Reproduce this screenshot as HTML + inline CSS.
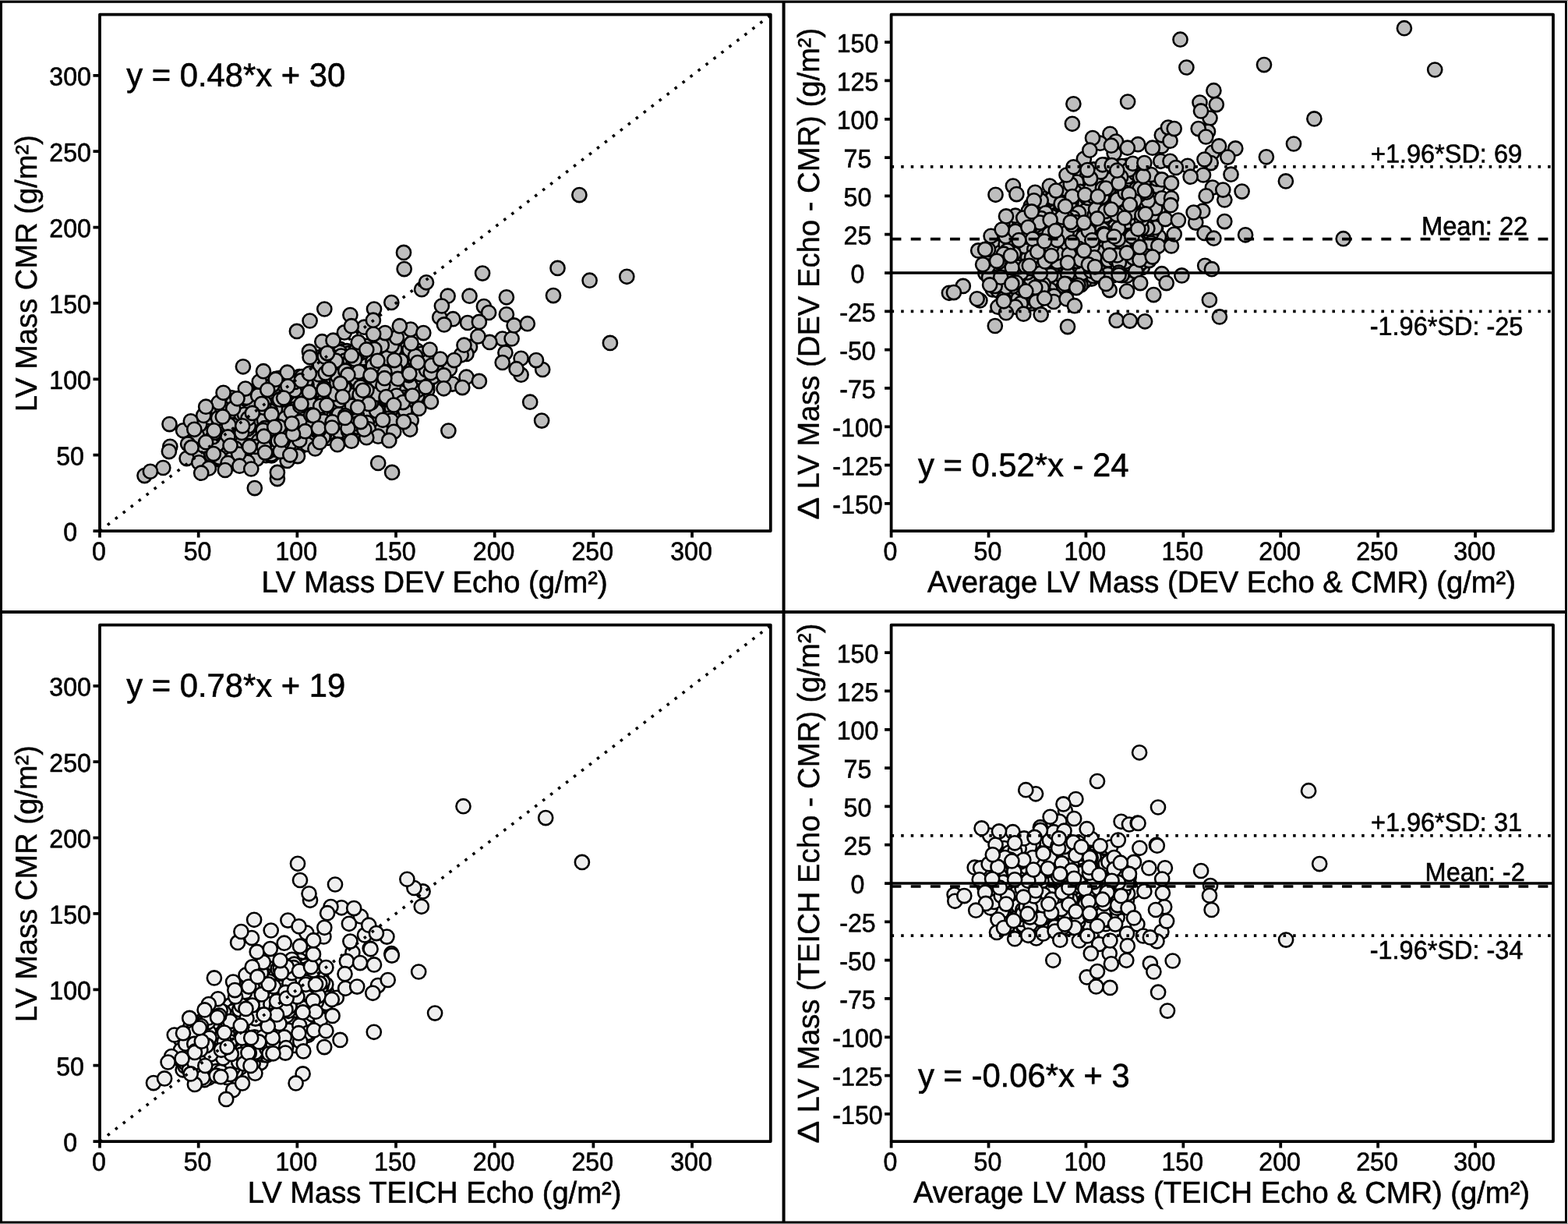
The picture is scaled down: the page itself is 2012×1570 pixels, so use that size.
<!DOCTYPE html>
<html lang="en"><head><meta charset="utf-8"><title>LV Mass: Echo vs CMR</title>
<style>html,body{margin:0;padding:0;background:#fff}svg{display:block}text{font-family:'Liberation Sans', sans-serif;fill:#000;stroke:#000}</style>
</head><body>
<svg xmlns="http://www.w3.org/2000/svg" width="2012" height="1570" viewBox="0 0 2012 1570">
<rect width="2012" height="1570" fill="#fff"/>
<g id="TL">
<g fill="#bebebe" stroke="#000" stroke-width="2.6">
<circle cx="460.6" cy="551.4" r="9.05"/>
<circle cx="421.1" cy="561.8" r="9.05"/>
<circle cx="408.3" cy="473.8" r="9.05"/>
<circle cx="279" cy="588.9" r="9.05"/>
<circle cx="432.9" cy="552.4" r="9.05"/>
<circle cx="271.9" cy="587.7" r="9.05"/>
<circle cx="250" cy="562.8" r="9.05"/>
<circle cx="476.4" cy="444.5" r="9.05"/>
<circle cx="436.5" cy="447.9" r="9.05"/>
<circle cx="346.9" cy="488.6" r="9.05"/>
<circle cx="501.1" cy="444.7" r="9.05"/>
<circle cx="445.1" cy="450.2" r="9.05"/>
<circle cx="551.6" cy="455.7" r="9.05"/>
<circle cx="490.5" cy="443.2" r="9.05"/>
<circle cx="402.6" cy="479.7" r="9.05"/>
<circle cx="354.3" cy="485.9" r="9.05"/>
<circle cx="374.5" cy="485.9" r="9.05"/>
<circle cx="428.6" cy="551.8" r="9.05"/>
<circle cx="405.1" cy="476.9" r="9.05"/>
<circle cx="271.5" cy="533.9" r="9.05"/>
<circle cx="548.2" cy="496.1" r="9.05"/>
<circle cx="341.4" cy="584.1" r="9.05"/>
<circle cx="453.8" cy="557.2" r="9.05"/>
<circle cx="297.3" cy="510.3" r="9.05"/>
<circle cx="272.7" cy="537.4" r="9.05"/>
<circle cx="386.5" cy="572.1" r="9.05"/>
<circle cx="447" cy="453.4" r="9.05"/>
<circle cx="384.2" cy="483.1" r="9.05"/>
<circle cx="420.8" cy="485" r="9.05"/>
<circle cx="348.4" cy="584.5" r="9.05"/>
<circle cx="469" cy="443.8" r="9.05"/>
<circle cx="291.7" cy="516.3" r="9.05"/>
<circle cx="332.3" cy="550.2" r="9.05"/>
<circle cx="288.5" cy="595.6" r="9.05"/>
<circle cx="424.7" cy="449.7" r="9.05"/>
<circle cx="433.9" cy="454.1" r="9.05"/>
<circle cx="249.3" cy="557.2" r="9.05"/>
<circle cx="548.3" cy="500.5" r="9.05"/>
<circle cx="491.7" cy="463.5" r="9.05"/>
<circle cx="358.6" cy="485.1" r="9.05"/>
<circle cx="535.5" cy="513.5" r="9.05"/>
<circle cx="363.7" cy="507.6" r="9.05"/>
<circle cx="286.5" cy="589.9" r="9.05"/>
<circle cx="406.4" cy="505.8" r="9.05"/>
<circle cx="471.7" cy="490.1" r="9.05"/>
<circle cx="426.1" cy="551.4" r="9.05"/>
<circle cx="457.9" cy="464.7" r="9.05"/>
<circle cx="368.8" cy="496.7" r="9.05"/>
<circle cx="410.6" cy="458.2" r="9.05"/>
<circle cx="474.6" cy="499.7" r="9.05"/>
<circle cx="557" cy="463.6" r="9.05"/>
<circle cx="327.7" cy="563.2" r="9.05"/>
<circle cx="387.8" cy="483.1" r="9.05"/>
<circle cx="436.8" cy="530.1" r="9.05"/>
<circle cx="433.1" cy="530.8" r="9.05"/>
<circle cx="545.9" cy="457.6" r="9.05"/>
<circle cx="384.8" cy="490.5" r="9.05"/>
<circle cx="527.2" cy="466.2" r="9.05"/>
<circle cx="541.5" cy="510.3" r="9.05"/>
<circle cx="532.5" cy="463.9" r="9.05"/>
<circle cx="457.6" cy="552.1" r="9.05"/>
<circle cx="442" cy="557.2" r="9.05"/>
<circle cx="348.6" cy="495.5" r="9.05"/>
<circle cx="517" cy="454.1" r="9.05"/>
<circle cx="531.5" cy="486.5" r="9.05"/>
<circle cx="529.8" cy="474.5" r="9.05"/>
<circle cx="458.7" cy="445.7" r="9.05"/>
<circle cx="430.9" cy="523.5" r="9.05"/>
<circle cx="495.6" cy="524.5" r="9.05"/>
<circle cx="485.9" cy="514.7" r="9.05"/>
<circle cx="342.6" cy="539.5" r="9.05"/>
<circle cx="534.5" cy="510.6" r="9.05"/>
<circle cx="521.8" cy="447" r="9.05"/>
<circle cx="297.4" cy="516.3" r="9.05"/>
<circle cx="301.2" cy="594.4" r="9.05"/>
<circle cx="268.2" cy="544.9" r="9.05"/>
<circle cx="353.8" cy="546.9" r="9.05"/>
<circle cx="370.6" cy="513" r="9.05"/>
<circle cx="527.4" cy="448.1" r="9.05"/>
<circle cx="516.6" cy="536.8" r="9.05"/>
<circle cx="478.9" cy="542.9" r="9.05"/>
<circle cx="353.3" cy="580.1" r="9.05"/>
<circle cx="456.8" cy="449.7" r="9.05"/>
<circle cx="298.7" cy="517.1" r="9.05"/>
<circle cx="480.9" cy="477.6" r="9.05"/>
<circle cx="481.7" cy="523.2" r="9.05"/>
<circle cx="409.4" cy="476.3" r="9.05"/>
<circle cx="458.3" cy="503.4" r="9.05"/>
<circle cx="479.8" cy="498.9" r="9.05"/>
<circle cx="306.8" cy="536.8" r="9.05"/>
<circle cx="474" cy="484.1" r="9.05"/>
<circle cx="436.1" cy="451.8" r="9.05"/>
<circle cx="480" cy="531.9" r="9.05"/>
<circle cx="414.4" cy="502.2" r="9.05"/>
<circle cx="429.8" cy="458.8" r="9.05"/>
<circle cx="487.4" cy="504.6" r="9.05"/>
<circle cx="381.6" cy="534.6" r="9.05"/>
<circle cx="279.4" cy="528.4" r="9.05"/>
<circle cx="515.3" cy="467.4" r="9.05"/>
<circle cx="359.6" cy="517.5" r="9.05"/>
<circle cx="500.7" cy="532" r="9.05"/>
<circle cx="491" cy="499.6" r="9.05"/>
<circle cx="522.8" cy="479.5" r="9.05"/>
<circle cx="493" cy="541.5" r="9.05"/>
<circle cx="554.1" cy="484.3" r="9.05"/>
<circle cx="380.6" cy="515.8" r="9.05"/>
<circle cx="318.3" cy="578.6" r="9.05"/>
<circle cx="525.4" cy="448.5" r="9.05"/>
<circle cx="363.5" cy="557.8" r="9.05"/>
<circle cx="563.1" cy="476" r="9.05"/>
<circle cx="329.5" cy="588.6" r="9.05"/>
<circle cx="496.9" cy="499.9" r="9.05"/>
<circle cx="272.5" cy="544.5" r="9.05"/>
<circle cx="472.3" cy="528.5" r="9.05"/>
<circle cx="421.9" cy="555" r="9.05"/>
<circle cx="469.1" cy="463" r="9.05"/>
<circle cx="348.2" cy="582.6" r="9.05"/>
<circle cx="428.2" cy="495.1" r="9.05"/>
<circle cx="369.5" cy="524.1" r="9.05"/>
<circle cx="420.8" cy="495.8" r="9.05"/>
<circle cx="535.4" cy="507.9" r="9.05"/>
<circle cx="467.2" cy="515.9" r="9.05"/>
<circle cx="470.9" cy="448.3" r="9.05"/>
<circle cx="378.4" cy="574" r="9.05"/>
<circle cx="493.7" cy="538.7" r="9.05"/>
<circle cx="444.7" cy="555" r="9.05"/>
<circle cx="379.9" cy="573.2" r="9.05"/>
<circle cx="359" cy="532.5" r="9.05"/>
<circle cx="368.1" cy="527.7" r="9.05"/>
<circle cx="330.2" cy="544.6" r="9.05"/>
<circle cx="394.5" cy="484.5" r="9.05"/>
<circle cx="427.1" cy="530.7" r="9.05"/>
<circle cx="280.7" cy="567.5" r="9.05"/>
<circle cx="513.5" cy="528.5" r="9.05"/>
<circle cx="347.6" cy="511.3" r="9.05"/>
<circle cx="401.1" cy="515.9" r="9.05"/>
<circle cx="496.8" cy="482.6" r="9.05"/>
<circle cx="471" cy="542.2" r="9.05"/>
<circle cx="381.6" cy="517.7" r="9.05"/>
<circle cx="525.8" cy="485.2" r="9.05"/>
<circle cx="373.9" cy="571.7" r="9.05"/>
<circle cx="279.6" cy="526" r="9.05"/>
<circle cx="436.9" cy="469.3" r="9.05"/>
<circle cx="450.6" cy="520.7" r="9.05"/>
<circle cx="409" cy="499.9" r="9.05"/>
<circle cx="419.6" cy="451.8" r="9.05"/>
<circle cx="320.1" cy="563.1" r="9.05"/>
<circle cx="336.1" cy="494.9" r="9.05"/>
<circle cx="294.7" cy="578.2" r="9.05"/>
<circle cx="478.4" cy="515.4" r="9.05"/>
<circle cx="346.1" cy="505.6" r="9.05"/>
<circle cx="278.8" cy="576.4" r="9.05"/>
<circle cx="300.9" cy="523.9" r="9.05"/>
<circle cx="384.9" cy="502.6" r="9.05"/>
<circle cx="372" cy="545.1" r="9.05"/>
<circle cx="534.9" cy="449.6" r="9.05"/>
<circle cx="431" cy="465.9" r="9.05"/>
<circle cx="363.2" cy="512.7" r="9.05"/>
<circle cx="378.5" cy="524.6" r="9.05"/>
<circle cx="267.3" cy="553.1" r="9.05"/>
<circle cx="391.6" cy="520.9" r="9.05"/>
<circle cx="519" cy="496.2" r="9.05"/>
<circle cx="353" cy="501" r="9.05"/>
<circle cx="519.5" cy="486.3" r="9.05"/>
<circle cx="396.4" cy="510.8" r="9.05"/>
<circle cx="503.3" cy="489.5" r="9.05"/>
<circle cx="418.8" cy="526.6" r="9.05"/>
<circle cx="492.4" cy="448.6" r="9.05"/>
<circle cx="518.3" cy="474.1" r="9.05"/>
<circle cx="483.5" cy="488.6" r="9.05"/>
<circle cx="514.5" cy="462.7" r="9.05"/>
<circle cx="399.9" cy="519.1" r="9.05"/>
<circle cx="411.3" cy="471.2" r="9.05"/>
<circle cx="506.5" cy="447.7" r="9.05"/>
<circle cx="362.4" cy="538.9" r="9.05"/>
<circle cx="319.9" cy="557.4" r="9.05"/>
<circle cx="502.8" cy="524.1" r="9.05"/>
<circle cx="415.4" cy="514.5" r="9.05"/>
<circle cx="421.4" cy="504.6" r="9.05"/>
<circle cx="378.1" cy="500.2" r="9.05"/>
<circle cx="352" cy="576.3" r="9.05"/>
<circle cx="468.5" cy="501.5" r="9.05"/>
<circle cx="437.7" cy="456.5" r="9.05"/>
<circle cx="353.1" cy="524.7" r="9.05"/>
<circle cx="454.3" cy="549.5" r="9.05"/>
<circle cx="317.9" cy="550" r="9.05"/>
<circle cx="472.3" cy="457.9" r="9.05"/>
<circle cx="372.7" cy="567.8" r="9.05"/>
<circle cx="323.6" cy="519.9" r="9.05"/>
<circle cx="331.1" cy="497.6" r="9.05"/>
<circle cx="342.3" cy="509.5" r="9.05"/>
<circle cx="518.6" cy="509.9" r="9.05"/>
<circle cx="344.2" cy="576.6" r="9.05"/>
<circle cx="416.3" cy="557.3" r="9.05"/>
<circle cx="366.1" cy="536.4" r="9.05"/>
<circle cx="477.3" cy="479.6" r="9.05"/>
<circle cx="498.6" cy="448.8" r="9.05"/>
<circle cx="319" cy="571.8" r="9.05"/>
<circle cx="389.4" cy="533.5" r="9.05"/>
<circle cx="559.3" cy="475.9" r="9.05"/>
<circle cx="278.6" cy="548.9" r="9.05"/>
<circle cx="435.1" cy="553.3" r="9.05"/>
<circle cx="293.9" cy="532.1" r="9.05"/>
<circle cx="414.7" cy="529.7" r="9.05"/>
<circle cx="548.4" cy="489" r="9.05"/>
<circle cx="484.7" cy="442.6" r="9.05"/>
<circle cx="423.4" cy="495.3" r="9.05"/>
<circle cx="399" cy="563.1" r="9.05"/>
<circle cx="339.3" cy="516.7" r="9.05"/>
<circle cx="286.1" cy="559.1" r="9.05"/>
<circle cx="497.1" cy="543.1" r="9.05"/>
<circle cx="406.6" cy="550.6" r="9.05"/>
<circle cx="449.8" cy="490.6" r="9.05"/>
<circle cx="442.4" cy="494.1" r="9.05"/>
<circle cx="356" cy="561.6" r="9.05"/>
<circle cx="460.7" cy="451.3" r="9.05"/>
<circle cx="365.4" cy="561.1" r="9.05"/>
<circle cx="449.9" cy="485.9" r="9.05"/>
<circle cx="442.4" cy="462.7" r="9.05"/>
<circle cx="332" cy="565.5" r="9.05"/>
<circle cx="483.1" cy="526.9" r="9.05"/>
<circle cx="286.9" cy="532.9" r="9.05"/>
<circle cx="526.1" cy="510" r="9.05"/>
<circle cx="390.9" cy="541.4" r="9.05"/>
<circle cx="287.7" cy="563.5" r="9.05"/>
<circle cx="526.8" cy="525.9" r="9.05"/>
<circle cx="424" cy="519.9" r="9.05"/>
<circle cx="414.4" cy="490.5" r="9.05"/>
<circle cx="489.1" cy="552.1" r="9.05"/>
<circle cx="269.5" cy="591.2" r="9.05"/>
<circle cx="476.1" cy="516.8" r="9.05"/>
<circle cx="499.3" cy="536.7" r="9.05"/>
<circle cx="470" cy="468.9" r="9.05"/>
<circle cx="358.9" cy="512.4" r="9.05"/>
<circle cx="320.7" cy="504.8" r="9.05"/>
<circle cx="373.8" cy="528.4" r="9.05"/>
<circle cx="277.4" cy="580.2" r="9.05"/>
<circle cx="309.4" cy="531.5" r="9.05"/>
<circle cx="469.6" cy="477.1" r="9.05"/>
<circle cx="540.9" cy="453.8" r="9.05"/>
<circle cx="297" cy="567.4" r="9.05"/>
<circle cx="411.3" cy="525.1" r="9.05"/>
<circle cx="505.3" cy="494.4" r="9.05"/>
<circle cx="520.9" cy="531.8" r="9.05"/>
<circle cx="449.7" cy="532.8" r="9.05"/>
<circle cx="434.1" cy="541.7" r="9.05"/>
<circle cx="348.1" cy="557.7" r="9.05"/>
<circle cx="521.6" cy="480.7" r="9.05"/>
<circle cx="385" cy="540.9" r="9.05"/>
<circle cx="425" cy="545.5" r="9.05"/>
<circle cx="395.6" cy="499.4" r="9.05"/>
<circle cx="443.3" cy="471.3" r="9.05"/>
<circle cx="308.6" cy="549.2" r="9.05"/>
<circle cx="412.6" cy="460.4" r="9.05"/>
<circle cx="326.4" cy="537.1" r="9.05"/>
<circle cx="412.6" cy="481.5" r="9.05"/>
<circle cx="495.5" cy="457" r="9.05"/>
<circle cx="287.4" cy="543.9" r="9.05"/>
<circle cx="412.3" cy="526.5" r="9.05"/>
<circle cx="395.7" cy="566.6" r="9.05"/>
<circle cx="378.4" cy="489.9" r="9.05"/>
<circle cx="463.9" cy="477.2" r="9.05"/>
<circle cx="417.9" cy="551.2" r="9.05"/>
<circle cx="358.1" cy="547.4" r="9.05"/>
<circle cx="313.1" cy="520.2" r="9.05"/>
<circle cx="399.1" cy="500.1" r="9.05"/>
<circle cx="364.1" cy="493.6" r="9.05"/>
<circle cx="327.6" cy="505.8" r="9.05"/>
<circle cx="252.3" cy="571.5" r="9.05"/>
<circle cx="497.3" cy="470.5" r="9.05"/>
<circle cx="264.2" cy="556" r="9.05"/>
<circle cx="424.5" cy="509.6" r="9.05"/>
<circle cx="338.4" cy="528.9" r="9.05"/>
<circle cx="299.1" cy="561.1" r="9.05"/>
<circle cx="519.8" cy="526.4" r="9.05"/>
<circle cx="309.3" cy="570.1" r="9.05"/>
<circle cx="320.4" cy="516.1" r="9.05"/>
<circle cx="370" cy="488.1" r="9.05"/>
<circle cx="496.7" cy="459.2" r="9.05"/>
<circle cx="506.5" cy="546" r="9.05"/>
<circle cx="442.5" cy="537" r="9.05"/>
<circle cx="318.8" cy="546.4" r="9.05"/>
<circle cx="457.1" cy="530.9" r="9.05"/>
<circle cx="432.5" cy="517.8" r="9.05"/>
<circle cx="535.5" cy="500.8" r="9.05"/>
<circle cx="338.9" cy="538.7" r="9.05"/>
<circle cx="313.9" cy="510.9" r="9.05"/>
<circle cx="394.1" cy="569.9" r="9.05"/>
<circle cx="273.6" cy="572.8" r="9.05"/>
<circle cx="526.7" cy="491.8" r="9.05"/>
<circle cx="401.5" cy="545" r="9.05"/>
<circle cx="339.8" cy="549.2" r="9.05"/>
<circle cx="480.3" cy="461.9" r="9.05"/>
<circle cx="449.3" cy="462.2" r="9.05"/>
<circle cx="328.5" cy="572.9" r="9.05"/>
<circle cx="384.3" cy="564.8" r="9.05"/>
<circle cx="343.4" cy="579.4" r="9.05"/>
<circle cx="302" cy="575.2" r="9.05"/>
<circle cx="300.3" cy="592.2" r="9.05"/>
<circle cx="313.8" cy="531.6" r="9.05"/>
<circle cx="466.9" cy="550.6" r="9.05"/>
<circle cx="478" cy="507.6" r="9.05"/>
<circle cx="549.5" cy="463.7" r="9.05"/>
<circle cx="358" cy="572.2" r="9.05"/>
<circle cx="524.7" cy="481.3" r="9.05"/>
<circle cx="432.8" cy="482.3" r="9.05"/>
<circle cx="484.6" cy="505.7" r="9.05"/>
<circle cx="279.9" cy="536.2" r="9.05"/>
<circle cx="439.3" cy="515.5" r="9.05"/>
<circle cx="425.1" cy="467.6" r="9.05"/>
<circle cx="337.6" cy="551.9" r="9.05"/>
<circle cx="362.1" cy="567.6" r="9.05"/>
<circle cx="266" cy="582.8" r="9.05"/>
<circle cx="318.4" cy="536.7" r="9.05"/>
<circle cx="458" cy="533.5" r="9.05"/>
<circle cx="316.3" cy="510" r="9.05"/>
<circle cx="457.6" cy="487.1" r="9.05"/>
<circle cx="403.3" cy="489.6" r="9.05"/>
<circle cx="434.8" cy="531.4" r="9.05"/>
<circle cx="507.4" cy="473.1" r="9.05"/>
<circle cx="453.4" cy="466.2" r="9.05"/>
<circle cx="430.9" cy="509.9" r="9.05"/>
<circle cx="286.3" cy="591.5" r="9.05"/>
<circle cx="478.4" cy="463.7" r="9.05"/>
<circle cx="408.9" cy="480.3" r="9.05"/>
<circle cx="542" cy="485.9" r="9.05"/>
<circle cx="447.1" cy="552.9" r="9.05"/>
<circle cx="539.1" cy="480.1" r="9.05"/>
<circle cx="462.7" cy="496.4" r="9.05"/>
<circle cx="298.3" cy="545.2" r="9.05"/>
<circle cx="409.9" cy="536.5" r="9.05"/>
<circle cx="349.4" cy="494.1" r="9.05"/>
<circle cx="435.7" cy="513.5" r="9.05"/>
<circle cx="293.5" cy="545" r="9.05"/>
<circle cx="292.4" cy="560.4" r="9.05"/>
<circle cx="293.7" cy="579.6" r="9.05"/>
<circle cx="378.9" cy="555.5" r="9.05"/>
<circle cx="317.6" cy="592.8" r="9.05"/>
<circle cx="491.4" cy="494.2" r="9.05"/>
<circle cx="419.1" cy="544.6" r="9.05"/>
<circle cx="278.6" cy="570" r="9.05"/>
<circle cx="502.7" cy="443.2" r="9.05"/>
<circle cx="385.3" cy="520.7" r="9.05"/>
<circle cx="415.2" cy="540.3" r="9.05"/>
<circle cx="410.7" cy="468.4" r="9.05"/>
<circle cx="281.5" cy="586.8" r="9.05"/>
<circle cx="271.3" cy="583.4" r="9.05"/>
<circle cx="430.9" cy="462.7" r="9.05"/>
<circle cx="347.2" cy="527.4" r="9.05"/>
<circle cx="533.1" cy="456.7" r="9.05"/>
<circle cx="297.4" cy="588.5" r="9.05"/>
<circle cx="393.5" cy="493.7" r="9.05"/>
<circle cx="442.7" cy="505.3" r="9.05"/>
<circle cx="253.5" cy="586" r="9.05"/>
<circle cx="415.9" cy="498" r="9.05"/>
<circle cx="555.4" cy="483.2" r="9.05"/>
<circle cx="452.5" cy="522.6" r="9.05"/>
<circle cx="331" cy="505.3" r="9.05"/>
<circle cx="451.4" cy="507.3" r="9.05"/>
<circle cx="284.8" cy="522.5" r="9.05"/>
<circle cx="260.7" cy="571.2" r="9.05"/>
<circle cx="508.9" cy="507.5" r="9.05"/>
<circle cx="414.7" cy="560.8" r="9.05"/>
<circle cx="411.2" cy="520.7" r="9.05"/>
<circle cx="460.7" cy="511.9" r="9.05"/>
<circle cx="421.9" cy="474.1" r="9.05"/>
<circle cx="459.5" cy="548" r="9.05"/>
<circle cx="429.8" cy="505.3" r="9.05"/>
<circle cx="495.7" cy="511.6" r="9.05"/>
<circle cx="391.6" cy="553.2" r="9.05"/>
<circle cx="451.8" cy="520.7" r="9.05"/>
<circle cx="409.1" cy="551.8" r="9.05"/>
<circle cx="338.4" cy="522.8" r="9.05"/>
<circle cx="348.9" cy="567.6" r="9.05"/>
<circle cx="455.2" cy="460.7" r="9.05"/>
<circle cx="489.8" cy="442.8" r="9.05"/>
<circle cx="306.2" cy="582.5" r="9.05"/>
<circle cx="310.2" cy="555" r="9.05"/>
<circle cx="493.5" cy="477.4" r="9.05"/>
<circle cx="480.4" cy="447.9" r="9.05"/>
<circle cx="461.6" cy="506.1" r="9.05"/>
<circle cx="440.9" cy="496.9" r="9.05"/>
<circle cx="470.4" cy="500.6" r="9.05"/>
<circle cx="426.5" cy="541.3" r="9.05"/>
<circle cx="416.6" cy="457.5" r="9.05"/>
<circle cx="356.7" cy="565.8" r="9.05"/>
<circle cx="547" cy="474.5" r="9.05"/>
<circle cx="478.6" cy="469.2" r="9.05"/>
<circle cx="472.9" cy="550.3" r="9.05"/>
<circle cx="501.9" cy="539.3" r="9.05"/>
<circle cx="443.2" cy="475.7" r="9.05"/>
<circle cx="559" cy="473.5" r="9.05"/>
<circle cx="392.3" cy="489.3" r="9.05"/>
<circle cx="331.1" cy="507.2" r="9.05"/>
<circle cx="273.3" cy="560.5" r="9.05"/>
<circle cx="275.3" cy="554.9" r="9.05"/>
<circle cx="256.3" cy="544.6" r="9.05"/>
<circle cx="460.3" cy="477.1" r="9.05"/>
<circle cx="517" cy="516.1" r="9.05"/>
<circle cx="417.7" cy="478.6" r="9.05"/>
<circle cx="552.7" cy="478.3" r="9.05"/>
<circle cx="399.2" cy="532.4" r="9.05"/>
<circle cx="458" cy="543.5" r="9.05"/>
<circle cx="443.1" cy="533.3" r="9.05"/>
<circle cx="396.9" cy="450.9" r="9.05"/>
<circle cx="332.8" cy="489.6" r="9.05"/>
<circle cx="368.6" cy="477.7" r="9.05"/>
<circle cx="386.5" cy="488.2" r="9.05"/>
<circle cx="280.6" cy="516.5" r="9.05"/>
<circle cx="335.8" cy="518" r="9.05"/>
<circle cx="235.1" cy="552.3" r="9.05"/>
<circle cx="253" cy="559" r="9.05"/>
<circle cx="241.1" cy="569.4" r="9.05"/>
<circle cx="218.3" cy="572.8" r="9.05"/>
<circle cx="338.7" cy="573.1" r="9.05"/>
<circle cx="340.2" cy="580.6" r="9.05"/>
<circle cx="368.6" cy="591" r="9.05"/>
<circle cx="355.9" cy="614.1" r="9.05"/>
<circle cx="185.5" cy="610.1" r="9.05"/>
<circle cx="239.6" cy="588.1" r="9.05"/>
<circle cx="292.5" cy="594" r="9.05"/>
<circle cx="359.6" cy="579.1" r="9.05"/>
<circle cx="382" cy="585.1" r="9.05"/>
<circle cx="404.4" cy="575.4" r="9.05"/>
<circle cx="410.3" cy="567.2" r="9.05"/>
<circle cx="361.1" cy="564.2" r="9.05"/>
<circle cx="376" cy="556.7" r="9.05"/>
<circle cx="261.2" cy="532.9" r="9.05"/>
<circle cx="244.8" cy="540.3" r="9.05"/>
<circle cx="249.3" cy="550.8" r="9.05"/>
<circle cx="299.2" cy="523.9" r="9.05"/>
<circle cx="413.3" cy="438.2" r="9.05"/>
<circle cx="427.5" cy="436.7" r="9.05"/>
<circle cx="397.6" cy="458.3" r="9.05"/>
<circle cx="420" cy="453.1" r="9.05"/>
<circle cx="311.9" cy="470.3" r="9.05"/>
<circle cx="338" cy="476.2" r="9.05"/>
<circle cx="353.7" cy="486.7" r="9.05"/>
<circle cx="396.9" cy="479.2" r="9.05"/>
<circle cx="422.2" cy="473.2" r="9.05"/>
<circle cx="286.6" cy="503.8" r="9.05"/>
<circle cx="314.9" cy="498.6" r="9.05"/>
<circle cx="304.5" cy="511.3" r="9.05"/>
<circle cx="343.2" cy="500.1" r="9.05"/>
<circle cx="369.3" cy="495.6" r="9.05"/>
<circle cx="364.1" cy="510.5" r="9.05"/>
<circle cx="396.9" cy="503.1" r="9.05"/>
<circle cx="415.5" cy="500.1" r="9.05"/>
<circle cx="386.5" cy="518" r="9.05"/>
<circle cx="419.3" cy="519.5" r="9.05"/>
<circle cx="264.2" cy="521.7" r="9.05"/>
<circle cx="285.8" cy="534.4" r="9.05"/>
<circle cx="323.8" cy="529.9" r="9.05"/>
<circle cx="311.2" cy="546.3" r="9.05"/>
<circle cx="348.4" cy="531.4" r="9.05"/>
<circle cx="352.2" cy="547.8" r="9.05"/>
<circle cx="374.5" cy="543.3" r="9.05"/>
<circle cx="402.1" cy="532.9" r="9.05"/>
<circle cx="217.5" cy="544.1" r="9.05"/>
<circle cx="408.8" cy="549.3" r="9.05"/>
<circle cx="426" cy="548.5" r="9.05"/>
<circle cx="274.6" cy="552.3" r="9.05"/>
<circle cx="264.2" cy="567.2" r="9.05"/>
<circle cx="245.6" cy="573.9" r="9.05"/>
<circle cx="295.5" cy="571.6" r="9.05"/>
<circle cx="320.1" cy="573.1" r="9.05"/>
<circle cx="338.7" cy="559.7" r="9.05"/>
<circle cx="216.9" cy="579.1" r="9.05"/>
<circle cx="273.9" cy="582.1" r="9.05"/>
<circle cx="255.2" cy="593.3" r="9.05"/>
<circle cx="267.9" cy="600.7" r="9.05"/>
<circle cx="258.2" cy="606.7" r="9.05"/>
<circle cx="288.8" cy="603" r="9.05"/>
<circle cx="307.4" cy="597.7" r="9.05"/>
<circle cx="322.3" cy="601.5" r="9.05"/>
<circle cx="372.3" cy="583.6" r="9.05"/>
<circle cx="355.9" cy="605.9" r="9.05"/>
<circle cx="209.3" cy="600" r="9.05"/>
<circle cx="192.9" cy="604.8" r="9.05"/>
<circle cx="326.8" cy="626.1" r="9.05"/>
<circle cx="644.7" cy="434.5" r="9.05"/>
<circle cx="648.4" cy="452.4" r="9.05"/>
<circle cx="696.2" cy="474" r="9.05"/>
<circle cx="668.6" cy="480.7" r="9.05"/>
<circle cx="603" cy="444.9" r="9.05"/>
<circle cx="598.5" cy="453.9" r="9.05"/>
<circle cx="591.8" cy="455.3" r="9.05"/>
<circle cx="580.6" cy="492.6" r="9.05"/>
<circle cx="576.9" cy="473.2" r="9.05"/>
<circle cx="553.8" cy="468.8" r="9.05"/>
<circle cx="459.8" cy="438.9" r="9.05"/>
<circle cx="509" cy="433" r="9.05"/>
<circle cx="510.5" cy="485.9" r="9.05"/>
<circle cx="529.2" cy="507.5" r="9.05"/>
<circle cx="495.6" cy="509" r="9.05"/>
<circle cx="473.2" cy="518" r="9.05"/>
<circle cx="527.7" cy="539.6" r="9.05"/>
<circle cx="526.2" cy="550.8" r="9.05"/>
<circle cx="505.3" cy="553.8" r="9.05"/>
<circle cx="485.2" cy="559.7" r="9.05"/>
<circle cx="470.3" cy="561.2" r="9.05"/>
<circle cx="467.3" cy="550.8" r="9.05"/>
<circle cx="433" cy="570.2" r="9.05"/>
<circle cx="491.1" cy="538.8" r="9.05"/>
<circle cx="446.4" cy="549.3" r="9.05"/>
<circle cx="485.2" cy="594" r="9.05"/>
<circle cx="503.1" cy="605.9" r="9.05"/>
<circle cx="575.4" cy="552.6" r="9.05"/>
<circle cx="680.2" cy="515.7" r="9.05"/>
<circle cx="695.1" cy="539.6" r="9.05"/>
<circle cx="656.6" cy="434.5" r="9.05"/>
<circle cx="628.3" cy="438.9" r="9.05"/>
<circle cx="613.4" cy="431.5" r="9.05"/>
<circle cx="644.7" cy="465" r="9.05"/>
<circle cx="668.6" cy="459.8" r="9.05"/>
<circle cx="688" cy="462.1" r="9.05"/>
<circle cx="662.6" cy="473.2" r="9.05"/>
<circle cx="595.5" cy="442.7" r="9.05"/>
<circle cx="582.8" cy="462.1" r="9.05"/>
<circle cx="598.5" cy="483.7" r="9.05"/>
<circle cx="614.9" cy="488.9" r="9.05"/>
<circle cx="593.3" cy="497.1" r="9.05"/>
<circle cx="569.4" cy="481.4" r="9.05"/>
<circle cx="569.4" cy="498.3" r="9.05"/>
<circle cx="564.9" cy="460.6" r="9.05"/>
<circle cx="551.5" cy="448.6" r="9.05"/>
<circle cx="527.7" cy="440.4" r="9.05"/>
<circle cx="535.9" cy="465" r="9.05"/>
<circle cx="506" cy="462.1" r="9.05"/>
<circle cx="484.4" cy="462.8" r="9.05"/>
<circle cx="470.3" cy="448.6" r="9.05"/>
<circle cx="450.9" cy="456.1" r="9.05"/>
<circle cx="525.4" cy="479.2" r="9.05"/>
<circle cx="493.4" cy="485.2" r="9.05"/>
<circle cx="475.5" cy="481.4" r="9.05"/>
<circle cx="446.4" cy="480.7" r="9.05"/>
<circle cx="436.7" cy="491.9" r="9.05"/>
<circle cx="465.8" cy="500.8" r="9.05"/>
<circle cx="546.3" cy="496.6" r="9.05"/>
<circle cx="553" cy="515.3" r="9.05"/>
<circle cx="537.4" cy="523.9" r="9.05"/>
<circle cx="505.3" cy="519.5" r="9.05"/>
<circle cx="459.1" cy="522.4" r="9.05"/>
<circle cx="439.7" cy="509" r="9.05"/>
<circle cx="442.7" cy="535.9" r="9.05"/>
<circle cx="462.8" cy="541.1" r="9.05"/>
<circle cx="518" cy="541.1" r="9.05"/>
<circle cx="499.3" cy="564.9" r="9.05"/>
<circle cx="450.9" cy="565.7" r="9.05"/>
<circle cx="541.1" cy="371.2" r="9.05"/>
<circle cx="480" cy="396.5" r="9.05"/>
<circle cx="620.9" cy="393.1" r="9.05"/>
<circle cx="564.2" cy="407" r="9.05"/>
<circle cx="574.6" cy="379.7" r="9.05"/>
<circle cx="467.3" cy="419.7" r="9.05"/>
<circle cx="441.9" cy="426.4" r="9.05"/>
<circle cx="526.9" cy="422.6" r="9.05"/>
<circle cx="543.3" cy="427.1" r="9.05"/>
<circle cx="494.1" cy="427.1" r="9.05"/>
<circle cx="479.2" cy="428.6" r="9.05"/>
<circle cx="518" cy="323.9" r="9.05"/>
<circle cx="518.7" cy="345.1" r="9.05"/>
<circle cx="547" cy="362.3" r="9.05"/>
<circle cx="502.3" cy="388" r="9.05"/>
<circle cx="619.1" cy="350.6" r="9.05"/>
<circle cx="715.5" cy="343.9" r="9.05"/>
<circle cx="710" cy="379.1" r="9.05"/>
<circle cx="602.5" cy="379.7" r="9.05"/>
<circle cx="649.9" cy="381.3" r="9.05"/>
<circle cx="566.9" cy="392.5" r="9.05"/>
<circle cx="627.1" cy="401" r="9.05"/>
<circle cx="649.9" cy="403.3" r="9.05"/>
<circle cx="581.3" cy="409.2" r="9.05"/>
<circle cx="569.9" cy="416.4" r="9.05"/>
<circle cx="600" cy="414" r="9.05"/>
<circle cx="614.9" cy="412.9" r="9.05"/>
<circle cx="659.6" cy="417.4" r="9.05"/>
<circle cx="676.8" cy="415.2" r="9.05"/>
<circle cx="449.4" cy="404" r="9.05"/>
<circle cx="478.9" cy="410.7" r="9.05"/>
<circle cx="450.9" cy="418.2" r="9.05"/>
<circle cx="512.8" cy="418.2" r="9.05"/>
<circle cx="416.3" cy="396.5" r="9.05"/>
<circle cx="397.6" cy="411.5" r="9.05"/>
<circle cx="380.9" cy="424.9" r="9.05"/>
<circle cx="743.4" cy="250.1" r="9.05"/>
<circle cx="756.6" cy="359.7" r="9.05"/>
<circle cx="804.3" cy="354.8" r="9.05"/>
<circle cx="782.9" cy="439.9" r="9.05"/>
</g>
<line x1="128" y1="681" x2="989.39" y2="18.92" stroke="#000" stroke-width="3.6" stroke-dasharray="3.5 9.075"/>
<g fill="#bebebe" stroke="#000" stroke-width="2.6">
</g>
<rect x="128" y="18.5" width="860.8" height="662.5" fill="none" stroke="#000" stroke-width="3.75" stroke-linejoin="round"/>
<path d="M128 681V689.6M254.68 681V689.6M381.35 681V689.6M508.03 681V689.6M634.7 681V689.6M761.38 681V689.6M888.05 681V689.6M128 681H119.5M128 583.63H119.5M128 486.27H119.5M128 388.9H119.5M128 291.54H119.5M128 194.18H119.5M128 96.81H119.5" stroke="#000" stroke-width="3.75" fill="none"/>
<text transform="translate(126.9 718.5) rotate(0.03) scale(0.965 1)" font-size="33.3" stroke-width="0.6" text-anchor="middle">0</text>
<text transform="translate(253.58 718.5) rotate(0.03) scale(0.965 1)" font-size="33.3" stroke-width="0.6" text-anchor="middle">50</text>
<text transform="translate(380.25 718.5) rotate(0.03) scale(0.965 1)" font-size="33.3" stroke-width="0.6" text-anchor="middle">100</text>
<text transform="translate(506.93 718.5) rotate(0.03) scale(0.965 1)" font-size="33.3" stroke-width="0.6" text-anchor="middle">150</text>
<text transform="translate(633.6 718.5) rotate(0.03) scale(0.965 1)" font-size="33.3" stroke-width="0.6" text-anchor="middle">200</text>
<text transform="translate(760.27 718.5) rotate(0.03) scale(0.965 1)" font-size="33.3" stroke-width="0.6" text-anchor="middle">250</text>
<text transform="translate(886.95 718.5) rotate(0.03) scale(0.965 1)" font-size="33.3" stroke-width="0.6" text-anchor="middle">300</text>
<text transform="translate(90.1 693.8) rotate(0.03) scale(0.965 1)" font-size="33.3" stroke-width="0.6" text-anchor="middle">0</text>
<text transform="translate(90.1 596.43) rotate(0.03) scale(0.965 1)" font-size="33.3" stroke-width="0.6" text-anchor="middle">50</text>
<text transform="translate(90.1 499.07) rotate(0.03) scale(0.965 1)" font-size="33.3" stroke-width="0.6" text-anchor="middle">100</text>
<text transform="translate(90.1 401.7) rotate(0.03) scale(0.965 1)" font-size="33.3" stroke-width="0.6" text-anchor="middle">150</text>
<text transform="translate(90.1 304.34) rotate(0.03) scale(0.965 1)" font-size="33.3" stroke-width="0.6" text-anchor="middle">200</text>
<text transform="translate(90.1 206.98) rotate(0.03) scale(0.965 1)" font-size="33.3" stroke-width="0.6" text-anchor="middle">250</text>
<text transform="translate(90.1 109.61) rotate(0.03) scale(0.965 1)" font-size="33.3" stroke-width="0.6" text-anchor="middle">300</text>
<text transform="translate(557.6 759.8) rotate(0.03) scale(0.978 1)" font-size="39.0" stroke-width="0.6" text-anchor="middle">LV Mass DEV Echo (g/m²)</text>
<text transform="translate(47 350.75) rotate(-89.97) scale(0.978 1)" font-size="39.0" stroke-width="0.45" text-anchor="middle">LV Mass CMR (g/m²)</text>
<text transform="translate(162.2 110.6) rotate(0.03) scale(0.983 1)" font-size="42.5" stroke-width="0.6">y = 0.48*x + 30</text>
</g>
<g id="TR">
<g fill="#bebebe" stroke="#000" stroke-width="2.6">
<circle cx="1483.1" cy="293.2" r="9.05"/>
<circle cx="1383.8" cy="229" r="9.05"/>
<circle cx="1484.4" cy="236.8" r="9.05"/>
<circle cx="1456.3" cy="350.8" r="9.05"/>
<circle cx="1400.7" cy="357.6" r="9.05"/>
<circle cx="1268.9" cy="327.7" r="9.05"/>
<circle cx="1465.9" cy="343" r="9.05"/>
<circle cx="1390.9" cy="361.3" r="9.05"/>
<circle cx="1465.1" cy="215.6" r="9.05"/>
<circle cx="1446" cy="353.7" r="9.05"/>
<circle cx="1320.6" cy="386.5" r="9.05"/>
<circle cx="1433.2" cy="214.4" r="9.05"/>
<circle cx="1323" cy="388.4" r="9.05"/>
<circle cx="1379.6" cy="357.8" r="9.05"/>
<circle cx="1271.8" cy="315.5" r="9.05"/>
<circle cx="1460.7" cy="341.1" r="9.05"/>
<circle cx="1311.9" cy="324.5" r="9.05"/>
<circle cx="1484.7" cy="316.4" r="9.05"/>
<circle cx="1360.2" cy="342.4" r="9.05"/>
<circle cx="1266" cy="322.9" r="9.05"/>
<circle cx="1477.9" cy="321.1" r="9.05"/>
<circle cx="1475.9" cy="278.7" r="9.05"/>
<circle cx="1373.1" cy="368.1" r="9.05"/>
<circle cx="1446.1" cy="346.1" r="9.05"/>
<circle cx="1324.2" cy="389.2" r="9.05"/>
<circle cx="1343.2" cy="382" r="9.05"/>
<circle cx="1359.1" cy="376.6" r="9.05"/>
<circle cx="1347.6" cy="263.1" r="9.05"/>
<circle cx="1370.8" cy="339.3" r="9.05"/>
<circle cx="1471.4" cy="295.7" r="9.05"/>
<circle cx="1264.3" cy="350.6" r="9.05"/>
<circle cx="1353.2" cy="271.9" r="9.05"/>
<circle cx="1357.3" cy="274" r="9.05"/>
<circle cx="1320.5" cy="386.4" r="9.05"/>
<circle cx="1349.2" cy="345.1" r="9.05"/>
<circle cx="1358.2" cy="257.5" r="9.05"/>
<circle cx="1303.9" cy="319.2" r="9.05"/>
<circle cx="1356.3" cy="369.3" r="9.05"/>
<circle cx="1276.7" cy="312.6" r="9.05"/>
<circle cx="1343.3" cy="254.3" r="9.05"/>
<circle cx="1359.2" cy="334.7" r="9.05"/>
<circle cx="1350" cy="347.5" r="9.05"/>
<circle cx="1363.1" cy="263.8" r="9.05"/>
<circle cx="1483.4" cy="252" r="9.05"/>
<circle cx="1325.2" cy="361.8" r="9.05"/>
<circle cx="1485.2" cy="284.8" r="9.05"/>
<circle cx="1352.1" cy="356.4" r="9.05"/>
<circle cx="1470.9" cy="308.5" r="9.05"/>
<circle cx="1374.3" cy="348.9" r="9.05"/>
<circle cx="1322.6" cy="264.4" r="9.05"/>
<circle cx="1487" cy="303.8" r="9.05"/>
<circle cx="1427.3" cy="253.8" r="9.05"/>
<circle cx="1438.1" cy="249.9" r="9.05"/>
<circle cx="1311.8" cy="333" r="9.05"/>
<circle cx="1366.8" cy="369.7" r="9.05"/>
<circle cx="1402.6" cy="354" r="9.05"/>
<circle cx="1405.7" cy="261.4" r="9.05"/>
<circle cx="1353.3" cy="277.9" r="9.05"/>
<circle cx="1427.3" cy="353.7" r="9.05"/>
<circle cx="1449.5" cy="229.6" r="9.05"/>
<circle cx="1273.8" cy="371.4" r="9.05"/>
<circle cx="1281.1" cy="312.7" r="9.05"/>
<circle cx="1351.9" cy="340.4" r="9.05"/>
<circle cx="1479" cy="296.1" r="9.05"/>
<circle cx="1455.5" cy="298.3" r="9.05"/>
<circle cx="1426.5" cy="213.3" r="9.05"/>
<circle cx="1351" cy="374.1" r="9.05"/>
<circle cx="1351.4" cy="250.5" r="9.05"/>
<circle cx="1358.2" cy="365.7" r="9.05"/>
<circle cx="1350.4" cy="358.3" r="9.05"/>
<circle cx="1319" cy="330.6" r="9.05"/>
<circle cx="1441.8" cy="290.9" r="9.05"/>
<circle cx="1427" cy="240" r="9.05"/>
<circle cx="1427.8" cy="261.7" r="9.05"/>
<circle cx="1368.9" cy="325.3" r="9.05"/>
<circle cx="1294.7" cy="335.2" r="9.05"/>
<circle cx="1427.8" cy="279.8" r="9.05"/>
<circle cx="1445.8" cy="212.7" r="9.05"/>
<circle cx="1296.9" cy="389.6" r="9.05"/>
<circle cx="1447.8" cy="243.2" r="9.05"/>
<circle cx="1305.3" cy="377.9" r="9.05"/>
<circle cx="1417" cy="345.5" r="9.05"/>
<circle cx="1312.1" cy="362.4" r="9.05"/>
<circle cx="1487.4" cy="262.6" r="9.05"/>
<circle cx="1457.1" cy="241" r="9.05"/>
<circle cx="1313.8" cy="382.6" r="9.05"/>
<circle cx="1293.8" cy="350.2" r="9.05"/>
<circle cx="1291.8" cy="380.8" r="9.05"/>
<circle cx="1486.6" cy="268.7" r="9.05"/>
<circle cx="1479.7" cy="260.2" r="9.05"/>
<circle cx="1428.3" cy="341" r="9.05"/>
<circle cx="1477.4" cy="241.1" r="9.05"/>
<circle cx="1461.3" cy="262.7" r="9.05"/>
<circle cx="1467.8" cy="310.5" r="9.05"/>
<circle cx="1476.7" cy="300.4" r="9.05"/>
<circle cx="1267.8" cy="335.4" r="9.05"/>
<circle cx="1329.5" cy="348.4" r="9.05"/>
<circle cx="1299" cy="367.3" r="9.05"/>
<circle cx="1477.6" cy="326.4" r="9.05"/>
<circle cx="1448.3" cy="282.6" r="9.05"/>
<circle cx="1443" cy="295" r="9.05"/>
<circle cx="1380.9" cy="345.6" r="9.05"/>
<circle cx="1300" cy="298.6" r="9.05"/>
<circle cx="1411.5" cy="329.6" r="9.05"/>
<circle cx="1407" cy="229.2" r="9.05"/>
<circle cx="1330" cy="366.5" r="9.05"/>
<circle cx="1389.5" cy="328.1" r="9.05"/>
<circle cx="1319.1" cy="356.4" r="9.05"/>
<circle cx="1387.2" cy="336.2" r="9.05"/>
<circle cx="1414" cy="306.2" r="9.05"/>
<circle cx="1386.2" cy="222.4" r="9.05"/>
<circle cx="1347.6" cy="371.7" r="9.05"/>
<circle cx="1469.3" cy="222.5" r="9.05"/>
<circle cx="1444.3" cy="241.8" r="9.05"/>
<circle cx="1306.7" cy="372" r="9.05"/>
<circle cx="1482.3" cy="291.9" r="9.05"/>
<circle cx="1318.1" cy="349.6" r="9.05"/>
<circle cx="1418.7" cy="293.1" r="9.05"/>
<circle cx="1474.8" cy="251" r="9.05"/>
<circle cx="1295.4" cy="290.2" r="9.05"/>
<circle cx="1453" cy="300.4" r="9.05"/>
<circle cx="1306.1" cy="357.8" r="9.05"/>
<circle cx="1470.2" cy="319.3" r="9.05"/>
<circle cx="1371" cy="236.7" r="9.05"/>
<circle cx="1446.7" cy="284.4" r="9.05"/>
<circle cx="1471.5" cy="262.8" r="9.05"/>
<circle cx="1415.1" cy="260" r="9.05"/>
<circle cx="1293.5" cy="314.4" r="9.05"/>
<circle cx="1407.2" cy="306.3" r="9.05"/>
<circle cx="1283.2" cy="303.1" r="9.05"/>
<circle cx="1360" cy="291.4" r="9.05"/>
<circle cx="1479.7" cy="274.3" r="9.05"/>
<circle cx="1365" cy="366.7" r="9.05"/>
<circle cx="1336.6" cy="287.5" r="9.05"/>
<circle cx="1314.7" cy="316.1" r="9.05"/>
<circle cx="1413.1" cy="288.7" r="9.05"/>
<circle cx="1410.9" cy="227.9" r="9.05"/>
<circle cx="1329.4" cy="267.4" r="9.05"/>
<circle cx="1470.4" cy="288.8" r="9.05"/>
<circle cx="1353.1" cy="293.3" r="9.05"/>
<circle cx="1366.7" cy="304.8" r="9.05"/>
<circle cx="1350.9" cy="253.7" r="9.05"/>
<circle cx="1402.3" cy="310.3" r="9.05"/>
<circle cx="1367.9" cy="286.7" r="9.05"/>
<circle cx="1416.2" cy="318.8" r="9.05"/>
<circle cx="1344.3" cy="343.7" r="9.05"/>
<circle cx="1386.7" cy="257.1" r="9.05"/>
<circle cx="1346.4" cy="379.3" r="9.05"/>
<circle cx="1369.3" cy="360.6" r="9.05"/>
<circle cx="1394.5" cy="227.3" r="9.05"/>
<circle cx="1399.5" cy="284.9" r="9.05"/>
<circle cx="1371.1" cy="344.9" r="9.05"/>
<circle cx="1392.2" cy="261.7" r="9.05"/>
<circle cx="1417" cy="300.2" r="9.05"/>
<circle cx="1364.1" cy="355.8" r="9.05"/>
<circle cx="1293.4" cy="314.5" r="9.05"/>
<circle cx="1323.4" cy="302.3" r="9.05"/>
<circle cx="1387.7" cy="314.5" r="9.05"/>
<circle cx="1482.4" cy="266.9" r="9.05"/>
<circle cx="1473.1" cy="257.5" r="9.05"/>
<circle cx="1338.5" cy="299.4" r="9.05"/>
<circle cx="1402.1" cy="335.5" r="9.05"/>
<circle cx="1355.9" cy="299.4" r="9.05"/>
<circle cx="1289.1" cy="304.9" r="9.05"/>
<circle cx="1304.2" cy="287.2" r="9.05"/>
<circle cx="1296.2" cy="342.1" r="9.05"/>
<circle cx="1280.4" cy="372.5" r="9.05"/>
<circle cx="1298.2" cy="356.6" r="9.05"/>
<circle cx="1300.2" cy="364.7" r="9.05"/>
<circle cx="1389.1" cy="236.8" r="9.05"/>
<circle cx="1299.3" cy="319.4" r="9.05"/>
<circle cx="1471" cy="328.1" r="9.05"/>
<circle cx="1407.8" cy="335.8" r="9.05"/>
<circle cx="1447.4" cy="226.2" r="9.05"/>
<circle cx="1422" cy="279.6" r="9.05"/>
<circle cx="1430.6" cy="291.3" r="9.05"/>
<circle cx="1275.4" cy="354.8" r="9.05"/>
<circle cx="1375.6" cy="305.5" r="9.05"/>
<circle cx="1389.7" cy="238.3" r="9.05"/>
<circle cx="1386.7" cy="365.7" r="9.05"/>
<circle cx="1472.4" cy="293" r="9.05"/>
<circle cx="1454.4" cy="340.9" r="9.05"/>
<circle cx="1287.8" cy="383.3" r="9.05"/>
<circle cx="1378.2" cy="298.7" r="9.05"/>
<circle cx="1313.2" cy="345.2" r="9.05"/>
<circle cx="1327.4" cy="383.9" r="9.05"/>
<circle cx="1406.7" cy="349.4" r="9.05"/>
<circle cx="1426.9" cy="300.1" r="9.05"/>
<circle cx="1329.3" cy="289" r="9.05"/>
<circle cx="1306.5" cy="383.2" r="9.05"/>
<circle cx="1439.4" cy="213" r="9.05"/>
<circle cx="1458.5" cy="241.9" r="9.05"/>
<circle cx="1374.6" cy="266.5" r="9.05"/>
<circle cx="1381.6" cy="293.5" r="9.05"/>
<circle cx="1368.7" cy="298.8" r="9.05"/>
<circle cx="1434.3" cy="340.8" r="9.05"/>
<circle cx="1380.4" cy="238" r="9.05"/>
<circle cx="1449.6" cy="346" r="9.05"/>
<circle cx="1341.8" cy="337.7" r="9.05"/>
<circle cx="1456.1" cy="274.7" r="9.05"/>
<circle cx="1441.2" cy="268.1" r="9.05"/>
<circle cx="1463.8" cy="216.2" r="9.05"/>
<circle cx="1406.8" cy="289.8" r="9.05"/>
<circle cx="1457.7" cy="219" r="9.05"/>
<circle cx="1327.3" cy="319.7" r="9.05"/>
<circle cx="1272.3" cy="331.1" r="9.05"/>
<circle cx="1438.6" cy="309.1" r="9.05"/>
<circle cx="1445.1" cy="275.7" r="9.05"/>
<circle cx="1393.4" cy="269.8" r="9.05"/>
<circle cx="1457.5" cy="222.4" r="9.05"/>
<circle cx="1444.4" cy="257.2" r="9.05"/>
<circle cx="1300.8" cy="325.4" r="9.05"/>
<circle cx="1310.4" cy="349.9" r="9.05"/>
<circle cx="1384" cy="351.5" r="9.05"/>
<circle cx="1360.7" cy="277.7" r="9.05"/>
<circle cx="1361.6" cy="268.7" r="9.05"/>
<circle cx="1372.1" cy="262.1" r="9.05"/>
<circle cx="1364.2" cy="271.5" r="9.05"/>
<circle cx="1408.3" cy="344.3" r="9.05"/>
<circle cx="1442.4" cy="315.4" r="9.05"/>
<circle cx="1388.4" cy="350.2" r="9.05"/>
<circle cx="1289.1" cy="342" r="9.05"/>
<circle cx="1382.2" cy="247.2" r="9.05"/>
<circle cx="1404.6" cy="252.3" r="9.05"/>
<circle cx="1391.4" cy="300.1" r="9.05"/>
<circle cx="1309.9" cy="305" r="9.05"/>
<circle cx="1474.8" cy="241.5" r="9.05"/>
<circle cx="1384.1" cy="273.1" r="9.05"/>
<circle cx="1422.7" cy="242.2" r="9.05"/>
<circle cx="1376.7" cy="279.3" r="9.05"/>
<circle cx="1426.7" cy="318.5" r="9.05"/>
<circle cx="1485.4" cy="238.9" r="9.05"/>
<circle cx="1451.8" cy="312" r="9.05"/>
<circle cx="1400.2" cy="347.7" r="9.05"/>
<circle cx="1394.5" cy="253.5" r="9.05"/>
<circle cx="1366.6" cy="317.9" r="9.05"/>
<circle cx="1278.6" cy="317.1" r="9.05"/>
<circle cx="1423.3" cy="212.2" r="9.05"/>
<circle cx="1440.8" cy="274" r="9.05"/>
<circle cx="1310.3" cy="370.2" r="9.05"/>
<circle cx="1419.4" cy="297.9" r="9.05"/>
<circle cx="1349.9" cy="278.1" r="9.05"/>
<circle cx="1444.7" cy="271.2" r="9.05"/>
<circle cx="1319.9" cy="270.6" r="9.05"/>
<circle cx="1427.9" cy="266.4" r="9.05"/>
<circle cx="1459.4" cy="285.2" r="9.05"/>
<circle cx="1423.5" cy="314.8" r="9.05"/>
<circle cx="1284.1" cy="323.8" r="9.05"/>
<circle cx="1381.7" cy="233.6" r="9.05"/>
<circle cx="1404.7" cy="275.9" r="9.05"/>
<circle cx="1367.6" cy="252" r="9.05"/>
<circle cx="1389.6" cy="304.3" r="9.05"/>
<circle cx="1317.1" cy="303.7" r="9.05"/>
<circle cx="1414.5" cy="294" r="9.05"/>
<circle cx="1306.5" cy="342.5" r="9.05"/>
<circle cx="1416.1" cy="300.1" r="9.05"/>
<circle cx="1461.1" cy="250.5" r="9.05"/>
<circle cx="1421.5" cy="352" r="9.05"/>
<circle cx="1442.7" cy="312.2" r="9.05"/>
<circle cx="1333.4" cy="349.2" r="9.05"/>
<circle cx="1451.4" cy="272.7" r="9.05"/>
<circle cx="1403.2" cy="217.4" r="9.05"/>
<circle cx="1381.9" cy="334.9" r="9.05"/>
<circle cx="1439.6" cy="353.1" r="9.05"/>
<circle cx="1465.3" cy="321.5" r="9.05"/>
<circle cx="1396.5" cy="253.9" r="9.05"/>
<circle cx="1422" cy="333.4" r="9.05"/>
<circle cx="1322.6" cy="289.8" r="9.05"/>
<circle cx="1338.5" cy="271.2" r="9.05"/>
<circle cx="1352.5" cy="379.8" r="9.05"/>
<circle cx="1396.7" cy="296.3" r="9.05"/>
<circle cx="1299.7" cy="367.3" r="9.05"/>
<circle cx="1369.4" cy="280.7" r="9.05"/>
<circle cx="1335.7" cy="257.4" r="9.05"/>
<circle cx="1322.9" cy="344.2" r="9.05"/>
<circle cx="1336" cy="308.6" r="9.05"/>
<circle cx="1386.1" cy="245.9" r="9.05"/>
<circle cx="1434.9" cy="307" r="9.05"/>
<circle cx="1343.6" cy="349.7" r="9.05"/>
<circle cx="1348.3" cy="296.6" r="9.05"/>
<circle cx="1417.5" cy="222.1" r="9.05"/>
<circle cx="1370.1" cy="351.5" r="9.05"/>
<circle cx="1337" cy="315.5" r="9.05"/>
<circle cx="1384.1" cy="318.8" r="9.05"/>
<circle cx="1309.8" cy="389.2" r="9.05"/>
<circle cx="1283.2" cy="345.5" r="9.05"/>
<circle cx="1334.6" cy="337.5" r="9.05"/>
<circle cx="1380.7" cy="285.2" r="9.05"/>
<circle cx="1368.7" cy="364.3" r="9.05"/>
<circle cx="1356.6" cy="335.8" r="9.05"/>
<circle cx="1402.6" cy="251.6" r="9.05"/>
<circle cx="1457.9" cy="299.2" r="9.05"/>
<circle cx="1290.6" cy="313.4" r="9.05"/>
<circle cx="1428.6" cy="273.6" r="9.05"/>
<circle cx="1276.6" cy="356" r="9.05"/>
<circle cx="1431.1" cy="332.4" r="9.05"/>
<circle cx="1452.1" cy="330" r="9.05"/>
<circle cx="1375.9" cy="288.4" r="9.05"/>
<circle cx="1408.3" cy="323.3" r="9.05"/>
<circle cx="1407.9" cy="279.8" r="9.05"/>
<circle cx="1348.2" cy="353.1" r="9.05"/>
<circle cx="1462.9" cy="227.2" r="9.05"/>
<circle cx="1464.7" cy="336.7" r="9.05"/>
<circle cx="1418.1" cy="211.6" r="9.05"/>
<circle cx="1466.1" cy="240.4" r="9.05"/>
<circle cx="1458.3" cy="308.7" r="9.05"/>
<circle cx="1417.2" cy="242.9" r="9.05"/>
<circle cx="1329.7" cy="283.3" r="9.05"/>
<circle cx="1356.4" cy="324.7" r="9.05"/>
<circle cx="1448.7" cy="217.4" r="9.05"/>
<circle cx="1471.9" cy="228.2" r="9.05"/>
<circle cx="1408.3" cy="352.3" r="9.05"/>
<circle cx="1474.4" cy="334.1" r="9.05"/>
<circle cx="1365.6" cy="242.1" r="9.05"/>
<circle cx="1292.6" cy="321.6" r="9.05"/>
<circle cx="1307.2" cy="291.8" r="9.05"/>
<circle cx="1338.7" cy="364.8" r="9.05"/>
<circle cx="1298.7" cy="343.6" r="9.05"/>
<circle cx="1288" cy="325.7" r="9.05"/>
<circle cx="1401.8" cy="315.8" r="9.05"/>
<circle cx="1346.5" cy="299.8" r="9.05"/>
<circle cx="1333.1" cy="384.9" r="9.05"/>
<circle cx="1464.9" cy="293.1" r="9.05"/>
<circle cx="1432" cy="257.2" r="9.05"/>
<circle cx="1268" cy="320" r="9.05"/>
<circle cx="1345.5" cy="330.4" r="9.05"/>
<circle cx="1336.2" cy="320.7" r="9.05"/>
<circle cx="1328" cy="377.4" r="9.05"/>
<circle cx="1406.1" cy="268.6" r="9.05"/>
<circle cx="1444.2" cy="335.4" r="9.05"/>
<circle cx="1377.5" cy="329.7" r="9.05"/>
<circle cx="1383.5" cy="365.9" r="9.05"/>
<circle cx="1294" cy="299.2" r="9.05"/>
<circle cx="1291.2" cy="367.9" r="9.05"/>
<circle cx="1484.2" cy="229.6" r="9.05"/>
<circle cx="1336.9" cy="369.2" r="9.05"/>
<circle cx="1435" cy="293.1" r="9.05"/>
<circle cx="1433.5" cy="256.2" r="9.05"/>
<circle cx="1452.4" cy="303.4" r="9.05"/>
<circle cx="1418.9" cy="276.3" r="9.05"/>
<circle cx="1438.2" cy="227.1" r="9.05"/>
<circle cx="1379.6" cy="246.8" r="9.05"/>
<circle cx="1436" cy="336.7" r="9.05"/>
<circle cx="1371.9" cy="326.4" r="9.05"/>
<circle cx="1398.7" cy="229.6" r="9.05"/>
<circle cx="1457.2" cy="348.1" r="9.05"/>
<circle cx="1399.3" cy="242.3" r="9.05"/>
<circle cx="1471.1" cy="246.7" r="9.05"/>
<circle cx="1421" cy="239.1" r="9.05"/>
<circle cx="1418.5" cy="270.9" r="9.05"/>
<circle cx="1424.1" cy="230.7" r="9.05"/>
<circle cx="1324" cy="276.8" r="9.05"/>
<circle cx="1303.7" cy="362.5" r="9.05"/>
<circle cx="1341.7" cy="273.3" r="9.05"/>
<circle cx="1344.3" cy="312.5" r="9.05"/>
<circle cx="1455.9" cy="257.6" r="9.05"/>
<circle cx="1354.7" cy="310" r="9.05"/>
<circle cx="1462.6" cy="241.7" r="9.05"/>
<circle cx="1276.7" cy="367" r="9.05"/>
<circle cx="1316.2" cy="341.4" r="9.05"/>
<circle cx="1414.3" cy="252.3" r="9.05"/>
<circle cx="1412.6" cy="220.6" r="9.05"/>
<circle cx="1432.8" cy="275.1" r="9.05"/>
<circle cx="1443.7" cy="246.9" r="9.05"/>
<circle cx="1362.8" cy="278.4" r="9.05"/>
<circle cx="1290.5" cy="303.2" r="9.05"/>
<circle cx="1336.1" cy="280.2" r="9.05"/>
<circle cx="1281.7" cy="336" r="9.05"/>
<circle cx="1361.6" cy="261.2" r="9.05"/>
<circle cx="1464.9" cy="281.7" r="9.05"/>
<circle cx="1334.9" cy="350.7" r="9.05"/>
<circle cx="1454.2" cy="330.6" r="9.05"/>
<circle cx="1328.3" cy="368.7" r="9.05"/>
<circle cx="1477" cy="224.1" r="9.05"/>
<circle cx="1269" cy="355.9" r="9.05"/>
<circle cx="1477" cy="311.8" r="9.05"/>
<circle cx="1310.7" cy="301.8" r="9.05"/>
<circle cx="1465.4" cy="275.8" r="9.05"/>
<circle cx="1318.3" cy="302" r="9.05"/>
<circle cx="1386.9" cy="333.6" r="9.05"/>
<circle cx="1433.4" cy="327.4" r="9.05"/>
<circle cx="1324" cy="330" r="9.05"/>
<circle cx="1414.9" cy="241.5" r="9.05"/>
<circle cx="1340.9" cy="335.5" r="9.05"/>
<circle cx="1348.9" cy="317.4" r="9.05"/>
<circle cx="1448.6" cy="249" r="9.05"/>
<circle cx="1267.8" cy="341.5" r="9.05"/>
<circle cx="1458.2" cy="323.5" r="9.05"/>
<circle cx="1299.9" cy="238.6" r="9.05"/>
<circle cx="1328.2" cy="246.8" r="9.05"/>
<circle cx="1346.9" cy="238.6" r="9.05"/>
<circle cx="1419.2" cy="241.6" r="9.05"/>
<circle cx="1302.9" cy="276.7" r="9.05"/>
<circle cx="1313.3" cy="279.6" r="9.05"/>
<circle cx="1334.2" cy="285.6" r="9.05"/>
<circle cx="1302.9" cy="296.8" r="9.05"/>
<circle cx="1271.6" cy="302.8" r="9.05"/>
<circle cx="1319.3" cy="291.6" r="9.05"/>
<circle cx="1325.2" cy="306.5" r="9.05"/>
<circle cx="1356.6" cy="308" r="9.05"/>
<circle cx="1255.2" cy="321.4" r="9.05"/>
<circle cx="1264.1" cy="319.9" r="9.05"/>
<circle cx="1261.1" cy="339.3" r="9.05"/>
<circle cx="1331.2" cy="322.9" r="9.05"/>
<circle cx="1404.3" cy="330.3" r="9.05"/>
<circle cx="1396.8" cy="339.3" r="9.05"/>
<circle cx="1446" cy="324.4" r="9.05"/>
<circle cx="1462.4" cy="333.3" r="9.05"/>
<circle cx="1435.6" cy="349.7" r="9.05"/>
<circle cx="1486.3" cy="315.4" r="9.05"/>
<circle cx="1490.8" cy="254.3" r="9.05"/>
<circle cx="1495.2" cy="281.1" r="9.05"/>
<circle cx="1217.9" cy="375.8" r="9.05"/>
<circle cx="1284.2" cy="355.7" r="9.05"/>
<circle cx="1423.7" cy="372.1" r="9.05"/>
<circle cx="1435.6" cy="352.7" r="9.05"/>
<circle cx="1490.8" cy="351.2" r="9.05"/>
<circle cx="1496.7" cy="363.1" r="9.05"/>
<circle cx="1257.4" cy="385.5" r="9.05"/>
<circle cx="1280.5" cy="393.7" r="9.05"/>
<circle cx="1302.9" cy="393.7" r="9.05"/>
<circle cx="1291" cy="401.2" r="9.05"/>
<circle cx="1329.7" cy="387" r="9.05"/>
<circle cx="1352.1" cy="387" r="9.05"/>
<circle cx="1368.5" cy="383.3" r="9.05"/>
<circle cx="1277.5" cy="249.8" r="9.05"/>
<circle cx="1304.4" cy="249.1" r="9.05"/>
<circle cx="1326.7" cy="257.3" r="9.05"/>
<circle cx="1355.1" cy="244.6" r="9.05"/>
<circle cx="1373.7" cy="236.4" r="9.05"/>
<circle cx="1375.9" cy="252.1" r="9.05"/>
<circle cx="1399.1" cy="228.9" r="9.05"/>
<circle cx="1392.3" cy="249.8" r="9.05"/>
<circle cx="1408.7" cy="252.1" r="9.05"/>
<circle cx="1435.6" cy="234.9" r="9.05"/>
<circle cx="1469.1" cy="244.6" r="9.05"/>
<circle cx="1466.9" cy="226" r="9.05"/>
<circle cx="1368.5" cy="224.5" r="9.05"/>
<circle cx="1490.8" cy="230.4" r="9.05"/>
<circle cx="1291" cy="277.4" r="9.05"/>
<circle cx="1323.8" cy="271.4" r="9.05"/>
<circle cx="1347.6" cy="281.9" r="9.05"/>
<circle cx="1367" cy="264.7" r="9.05"/>
<circle cx="1373.7" cy="284.9" r="9.05"/>
<circle cx="1390.9" cy="285.6" r="9.05"/>
<circle cx="1408" cy="280.4" r="9.05"/>
<circle cx="1425.9" cy="268.5" r="9.05"/>
<circle cx="1449.8" cy="262.5" r="9.05"/>
<circle cx="1443" cy="279.6" r="9.05"/>
<circle cx="1469.9" cy="274.4" r="9.05"/>
<circle cx="1285.7" cy="294.6" r="9.05"/>
<circle cx="1354.3" cy="296" r="9.05"/>
<circle cx="1307.4" cy="308" r="9.05"/>
<circle cx="1340.2" cy="309.5" r="9.05"/>
<circle cx="1375.9" cy="311" r="9.05"/>
<circle cx="1401.3" cy="308" r="9.05"/>
<circle cx="1416.9" cy="301.3" r="9.05"/>
<circle cx="1429.6" cy="303.5" r="9.05"/>
<circle cx="1460.2" cy="293.8" r="9.05"/>
<circle cx="1462.4" cy="316.9" r="9.05"/>
<circle cx="1390.9" cy="321.4" r="9.05"/>
<circle cx="1296.9" cy="328.1" r="9.05"/>
<circle cx="1279" cy="334.8" r="9.05"/>
<circle cx="1349.1" cy="328.1" r="9.05"/>
<circle cx="1320.8" cy="340.8" r="9.05"/>
<circle cx="1370" cy="337" r="9.05"/>
<circle cx="1405" cy="342.3" r="9.05"/>
<circle cx="1423.7" cy="327.4" r="9.05"/>
<circle cx="1478.8" cy="329.6" r="9.05"/>
<circle cx="1235.8" cy="366.9" r="9.05"/>
<circle cx="1223.9" cy="375.1" r="9.05"/>
<circle cx="1270.1" cy="365.4" r="9.05"/>
<circle cx="1298.4" cy="363.9" r="9.05"/>
<circle cx="1316.3" cy="373.6" r="9.05"/>
<circle cx="1366.3" cy="363.9" r="9.05"/>
<circle cx="1381.2" cy="369.1" r="9.05"/>
<circle cx="1419.2" cy="363.9" r="9.05"/>
<circle cx="1463.2" cy="363.1" r="9.05"/>
<circle cx="1446" cy="373.6" r="9.05"/>
<circle cx="1480.3" cy="378.1" r="9.05"/>
<circle cx="1253.7" cy="383.3" r="9.05"/>
<circle cx="1288" cy="386.3" r="9.05"/>
<circle cx="1313.3" cy="402.7" r="9.05"/>
<circle cx="1335.7" cy="403.4" r="9.05"/>
<circle cx="1340.2" cy="382.5" r="9.05"/>
<circle cx="1378.9" cy="392.2" r="9.05"/>
<circle cx="1276.8" cy="418" r="9.05"/>
<circle cx="1370" cy="419.1" r="9.05"/>
<circle cx="1432.6" cy="410.9" r="9.05"/>
<circle cx="1449.8" cy="411.6" r="9.05"/>
<circle cx="1469.1" cy="412.3" r="9.05"/>
<circle cx="1424.4" cy="171.8" r="9.05"/>
<circle cx="1411.7" cy="183.7" r="9.05"/>
<circle cx="1431.9" cy="181.5" r="9.05"/>
<circle cx="1429.6" cy="196.4" r="9.05"/>
<circle cx="1390.9" cy="203.8" r="9.05"/>
<circle cx="1460.2" cy="185.2" r="9.05"/>
<circle cx="1490.8" cy="187.4" r="9.05"/>
<circle cx="1414.7" cy="211.3" r="9.05"/>
<circle cx="1426.6" cy="212" r="9.05"/>
<circle cx="1453.5" cy="209.8" r="9.05"/>
<circle cx="1377.4" cy="133.3" r="9.05"/>
<circle cx="1375.9" cy="158.8" r="9.05"/>
<circle cx="1447.1" cy="130.5" r="9.05"/>
<circle cx="1402" cy="177" r="9.05"/>
<circle cx="1425.9" cy="186.7" r="9.05"/>
<circle cx="1398.3" cy="192.7" r="9.05"/>
<circle cx="1446.8" cy="189.7" r="9.05"/>
<circle cx="1478.8" cy="189.7" r="9.05"/>
<circle cx="1490.8" cy="173.3" r="9.05"/>
<circle cx="1499" cy="163.6" r="9.05"/>
<circle cx="1377.4" cy="214.3" r="9.05"/>
<circle cx="1395.3" cy="218" r="9.05"/>
<circle cx="1433.3" cy="218.7" r="9.05"/>
<circle cx="1468.4" cy="209.1" r="9.05"/>
<circle cx="1489.3" cy="206.8" r="9.05"/>
<circle cx="1539.5" cy="131.5" r="9.05"/>
<circle cx="1552.5" cy="151.6" r="9.05"/>
<circle cx="1501.5" cy="180.7" r="9.05"/>
<circle cx="1550" cy="168.8" r="9.05"/>
<circle cx="1585.3" cy="190.4" r="9.05"/>
<circle cx="1555.9" cy="195.6" r="9.05"/>
<circle cx="1553.7" cy="209.1" r="9.05"/>
<circle cx="1523.9" cy="212.8" r="9.05"/>
<circle cx="1501.5" cy="206.8" r="9.05"/>
<circle cx="1514.5" cy="50.7" r="9.05"/>
<circle cx="1522.4" cy="86.5" r="9.05"/>
<circle cx="1622" cy="83.1" r="9.05"/>
<circle cx="1557.4" cy="116.2" r="9.05"/>
<circle cx="1560.8" cy="134.1" r="9.05"/>
<circle cx="1541" cy="142.4" r="9.05"/>
<circle cx="1686.4" cy="152.4" r="9.05"/>
<circle cx="1506.7" cy="165.1" r="9.05"/>
<circle cx="1537.7" cy="165.1" r="9.05"/>
<circle cx="1547.4" cy="175.5" r="9.05"/>
<circle cx="1660" cy="184.5" r="9.05"/>
<circle cx="1564.1" cy="187.4" r="9.05"/>
<circle cx="1575.3" cy="201.6" r="9.05"/>
<circle cx="1624.9" cy="201.3" r="9.05"/>
<circle cx="1545.5" cy="204.6" r="9.05"/>
<circle cx="1508.9" cy="215" r="9.05"/>
<circle cx="1555.9" cy="240.6" r="9.05"/>
<circle cx="1547.7" cy="251.3" r="9.05"/>
<circle cx="1571.3" cy="256.5" r="9.05"/>
<circle cx="1543.2" cy="270.7" r="9.05"/>
<circle cx="1534.3" cy="285.6" r="9.05"/>
<circle cx="1545.5" cy="299" r="9.05"/>
<circle cx="1503" cy="234.9" r="9.05"/>
<circle cx="1503" cy="254.3" r="9.05"/>
<circle cx="1502.2" cy="263.2" r="9.05"/>
<circle cx="1503" cy="315.4" r="9.05"/>
<circle cx="1546.2" cy="340.8" r="9.05"/>
<circle cx="1649.9" cy="232.4" r="9.05"/>
<circle cx="1579.5" cy="223.7" r="9.05"/>
<circle cx="1544" cy="224.5" r="9.05"/>
<circle cx="1527.6" cy="226.7" r="9.05"/>
<circle cx="1569.3" cy="243.6" r="9.05"/>
<circle cx="1593.6" cy="245.6" r="9.05"/>
<circle cx="1531.6" cy="272.5" r="9.05"/>
<circle cx="1571.3" cy="284.1" r="9.05"/>
<circle cx="1511.9" cy="282.6" r="9.05"/>
<circle cx="1557.4" cy="305.7" r="9.05"/>
<circle cx="1598.1" cy="301.3" r="9.05"/>
<circle cx="1723.7" cy="306.2" r="9.05"/>
<circle cx="1506.7" cy="300.5" r="9.05"/>
<circle cx="1554.9" cy="345.2" r="9.05"/>
<circle cx="1516.4" cy="353.4" r="9.05"/>
<circle cx="1551.9" cy="384.8" r="9.05"/>
<circle cx="1564.9" cy="406.4" r="9.05"/>
<circle cx="1801.9" cy="36.2" r="9.05"/>
<circle cx="1841.2" cy="89.5" r="9.05"/>
</g>
<line x1="1143.6" y1="213.92" x2="1993" y2="213.92" stroke="#000" stroke-width="3.6" stroke-dasharray="3.5 9.075"/>
<line x1="1143.6" y1="306.63" x2="1993" y2="306.63" stroke="#000" stroke-width="3.6" stroke-dasharray="12.8 12.35"/>
<line x1="1143.6" y1="350.03" x2="1993" y2="350.03" stroke="#000" stroke-width="3.6"/>
<line x1="1143.6" y1="399.34" x2="1993" y2="399.34" stroke="#000" stroke-width="3.6" stroke-dasharray="3.5 9.075"/>
<g fill="#bebebe" stroke="#000" stroke-width="2.6">
</g>
<rect x="1143.6" y="18.5" width="849.4" height="662.5" fill="none" stroke="#000" stroke-width="3.75" stroke-linejoin="round"/>
<path d="M1143.6 681V689.6M1268.51 681V689.6M1393.42 681V689.6M1518.34 681V689.6M1643.25 681V689.6M1768.16 681V689.6M1893.07 681V689.6M1143.6 645.92H1135.1M1143.6 596.61H1135.1M1143.6 547.29H1135.1M1143.6 497.97H1135.1M1143.6 448.66H1135.1M1143.6 399.34H1135.1M1143.6 350.03H1135.1M1143.6 300.71H1135.1M1143.6 251.4H1135.1M1143.6 202.08H1135.1M1143.6 152.77H1135.1M1143.6 103.45H1135.1M1143.6 54.14H1135.1" stroke="#000" stroke-width="3.75" fill="none"/>
<text transform="translate(1142.5 718.5) rotate(0.03) scale(0.965 1)" font-size="33.3" stroke-width="0.6" text-anchor="middle">0</text>
<text transform="translate(1267.41 718.5) rotate(0.03) scale(0.965 1)" font-size="33.3" stroke-width="0.6" text-anchor="middle">50</text>
<text transform="translate(1392.32 718.5) rotate(0.03) scale(0.965 1)" font-size="33.3" stroke-width="0.6" text-anchor="middle">100</text>
<text transform="translate(1517.24 718.5) rotate(0.03) scale(0.965 1)" font-size="33.3" stroke-width="0.6" text-anchor="middle">150</text>
<text transform="translate(1642.15 718.5) rotate(0.03) scale(0.965 1)" font-size="33.3" stroke-width="0.6" text-anchor="middle">200</text>
<text transform="translate(1767.06 718.5) rotate(0.03) scale(0.965 1)" font-size="33.3" stroke-width="0.6" text-anchor="middle">250</text>
<text transform="translate(1891.97 718.5) rotate(0.03) scale(0.965 1)" font-size="33.3" stroke-width="0.6" text-anchor="middle">300</text>
<text transform="translate(1100.5 658.72) rotate(0.03) scale(0.965 1)" font-size="33.3" stroke-width="0.6" text-anchor="middle">-150</text>
<text transform="translate(1100.5 609.4) rotate(0.03) scale(0.965 1)" font-size="33.3" stroke-width="0.6" text-anchor="middle">-125</text>
<text transform="translate(1100.5 560.09) rotate(0.03) scale(0.965 1)" font-size="33.3" stroke-width="0.6" text-anchor="middle">-100</text>
<text transform="translate(1100.5 510.77) rotate(0.03) scale(0.965 1)" font-size="33.3" stroke-width="0.6" text-anchor="middle">-75</text>
<text transform="translate(1100.5 461.46) rotate(0.03) scale(0.965 1)" font-size="33.3" stroke-width="0.6" text-anchor="middle">-50</text>
<text transform="translate(1100.5 412.14) rotate(0.03) scale(0.965 1)" font-size="33.3" stroke-width="0.6" text-anchor="middle">-25</text>
<text transform="translate(1100.5 362.83) rotate(0.03) scale(0.965 1)" font-size="33.3" stroke-width="0.6" text-anchor="middle">0</text>
<text transform="translate(1100.5 313.51) rotate(0.03) scale(0.965 1)" font-size="33.3" stroke-width="0.6" text-anchor="middle">25</text>
<text transform="translate(1100.5 264.2) rotate(0.03) scale(0.965 1)" font-size="33.3" stroke-width="0.6" text-anchor="middle">50</text>
<text transform="translate(1100.5 214.88) rotate(0.03) scale(0.965 1)" font-size="33.3" stroke-width="0.6" text-anchor="middle">75</text>
<text transform="translate(1100.5 165.57) rotate(0.03) scale(0.965 1)" font-size="33.3" stroke-width="0.6" text-anchor="middle">100</text>
<text transform="translate(1100.5 116.25) rotate(0.03) scale(0.965 1)" font-size="33.3" stroke-width="0.6" text-anchor="middle">125</text>
<text transform="translate(1100.5 66.94) rotate(0.03) scale(0.965 1)" font-size="33.3" stroke-width="0.6" text-anchor="middle">150</text>
<text transform="translate(1567.5 759.8) rotate(0.03) scale(0.978 1)" font-size="39.0" stroke-width="0.6" text-anchor="middle">Average LV Mass (DEV Echo &amp; CMR) (g/m²)</text>
<text transform="translate(1050.8 666.5) rotate(-89.97) scale(1.11 1)" font-size="39.0" stroke-width="0.45">Δ</text>
<text transform="translate(1050.8 627.4) rotate(-89.97) scale(0.98 1)" font-size="39.0" stroke-width="0.45">LV Mass (DEV Echo - CMR) (g/m²)</text>
<text transform="translate(1178 611) rotate(0.03) scale(0.983 1)" font-size="42.5" stroke-width="0.6">y = 0.52*x - 24</text>
<text transform="translate(1759 208.5) rotate(0.03) scale(0.975 1)" font-size="33.3" stroke-width="0.6">+1.96*SD: 69</text>
<text transform="translate(1823.9 301.3) rotate(0.03) scale(0.983 1)" font-size="33.3" stroke-width="0.6">Mean: 22</text>
<text transform="translate(1757.7 429.8) rotate(0.03) scale(0.975 1)" font-size="33.3" stroke-width="0.6">-1.96*SD: -25</text>
</g>
<g id="BL">
<g fill="#efefef" stroke="#000" stroke-width="2.6">
<circle cx="410.2" cy="1245.2" r="9.05"/>
<circle cx="385.2" cy="1232.1" r="9.05"/>
<circle cx="234.6" cy="1372.3" r="9.05"/>
<circle cx="378.2" cy="1341" r="9.05"/>
<circle cx="397.3" cy="1235.7" r="9.05"/>
<circle cx="419.1" cy="1272.6" r="9.05"/>
<circle cx="320.9" cy="1365.3" r="9.05"/>
<circle cx="416.3" cy="1267.4" r="9.05"/>
<circle cx="334.5" cy="1363.1" r="9.05"/>
<circle cx="260.7" cy="1308.3" r="9.05"/>
<circle cx="345.7" cy="1242.4" r="9.05"/>
<circle cx="324.8" cy="1357.4" r="9.05"/>
<circle cx="384.3" cy="1238.3" r="9.05"/>
<circle cx="330.2" cy="1288.7" r="9.05"/>
<circle cx="413.8" cy="1272.8" r="9.05"/>
<circle cx="275.8" cy="1297.8" r="9.05"/>
<circle cx="411.4" cy="1282.2" r="9.05"/>
<circle cx="330.9" cy="1281.4" r="9.05"/>
<circle cx="264.8" cy="1306.7" r="9.05"/>
<circle cx="304.1" cy="1370.7" r="9.05"/>
<circle cx="312" cy="1268.1" r="9.05"/>
<circle cx="291.3" cy="1381.9" r="9.05"/>
<circle cx="310.1" cy="1274.8" r="9.05"/>
<circle cx="321.1" cy="1256.4" r="9.05"/>
<circle cx="393.1" cy="1288.3" r="9.05"/>
<circle cx="324.1" cy="1279.5" r="9.05"/>
<circle cx="410.4" cy="1297.4" r="9.05"/>
<circle cx="324.7" cy="1364" r="9.05"/>
<circle cx="379.6" cy="1314.7" r="9.05"/>
<circle cx="339" cy="1352.9" r="9.05"/>
<circle cx="232.4" cy="1334" r="9.05"/>
<circle cx="413.1" cy="1256.3" r="9.05"/>
<circle cx="230.4" cy="1358.2" r="9.05"/>
<circle cx="340.1" cy="1250.9" r="9.05"/>
<circle cx="294.8" cy="1292" r="9.05"/>
<circle cx="342.4" cy="1353.5" r="9.05"/>
<circle cx="337.7" cy="1346.8" r="9.05"/>
<circle cx="374.6" cy="1230.8" r="9.05"/>
<circle cx="244.6" cy="1315.4" r="9.05"/>
<circle cx="353.4" cy="1252.3" r="9.05"/>
<circle cx="254.6" cy="1368.9" r="9.05"/>
<circle cx="340.8" cy="1257.1" r="9.05"/>
<circle cx="328.7" cy="1273.1" r="9.05"/>
<circle cx="272.3" cy="1341.6" r="9.05"/>
<circle cx="257.6" cy="1364.3" r="9.05"/>
<circle cx="329.1" cy="1352.7" r="9.05"/>
<circle cx="308.6" cy="1369.2" r="9.05"/>
<circle cx="412.3" cy="1282.6" r="9.05"/>
<circle cx="310.2" cy="1283.6" r="9.05"/>
<circle cx="302.4" cy="1373.9" r="9.05"/>
<circle cx="418.3" cy="1262.8" r="9.05"/>
<circle cx="324.9" cy="1278.3" r="9.05"/>
<circle cx="355.6" cy="1279" r="9.05"/>
<circle cx="325" cy="1353" r="9.05"/>
<circle cx="397" cy="1312" r="9.05"/>
<circle cx="257.9" cy="1360.6" r="9.05"/>
<circle cx="298.6" cy="1370.4" r="9.05"/>
<circle cx="237.9" cy="1332" r="9.05"/>
<circle cx="412.3" cy="1265.2" r="9.05"/>
<circle cx="361.4" cy="1270.2" r="9.05"/>
<circle cx="233.5" cy="1352" r="9.05"/>
<circle cx="267.4" cy="1382.7" r="9.05"/>
<circle cx="318.4" cy="1314.6" r="9.05"/>
<circle cx="308.3" cy="1341.7" r="9.05"/>
<circle cx="244.5" cy="1341" r="9.05"/>
<circle cx="387" cy="1318.9" r="9.05"/>
<circle cx="273.4" cy="1334.3" r="9.05"/>
<circle cx="354.3" cy="1258.1" r="9.05"/>
<circle cx="395.8" cy="1299" r="9.05"/>
<circle cx="391.7" cy="1238.9" r="9.05"/>
<circle cx="272.8" cy="1330.5" r="9.05"/>
<circle cx="356.6" cy="1242.9" r="9.05"/>
<circle cx="295.6" cy="1289.4" r="9.05"/>
<circle cx="276" cy="1323.6" r="9.05"/>
<circle cx="248.2" cy="1356" r="9.05"/>
<circle cx="298.5" cy="1347" r="9.05"/>
<circle cx="246.8" cy="1368.1" r="9.05"/>
<circle cx="395.2" cy="1327.8" r="9.05"/>
<circle cx="303" cy="1293.9" r="9.05"/>
<circle cx="282.1" cy="1317.4" r="9.05"/>
<circle cx="332.9" cy="1348" r="9.05"/>
<circle cx="379.8" cy="1303.4" r="9.05"/>
<circle cx="385.7" cy="1243.8" r="9.05"/>
<circle cx="298.1" cy="1336.1" r="9.05"/>
<circle cx="284.8" cy="1328.7" r="9.05"/>
<circle cx="276.4" cy="1368.8" r="9.05"/>
<circle cx="268.8" cy="1377.7" r="9.05"/>
<circle cx="318.6" cy="1265.9" r="9.05"/>
<circle cx="382.8" cy="1287.3" r="9.05"/>
<circle cx="343.9" cy="1284" r="9.05"/>
<circle cx="408.1" cy="1294.7" r="9.05"/>
<circle cx="369.9" cy="1307.1" r="9.05"/>
<circle cx="371.9" cy="1239.2" r="9.05"/>
<circle cx="377.6" cy="1331.6" r="9.05"/>
<circle cx="299.5" cy="1322" r="9.05"/>
<circle cx="363.3" cy="1334" r="9.05"/>
<circle cx="364.7" cy="1319.9" r="9.05"/>
<circle cx="285.3" cy="1372.6" r="9.05"/>
<circle cx="295.9" cy="1328.3" r="9.05"/>
<circle cx="279.2" cy="1305.3" r="9.05"/>
<circle cx="244.8" cy="1329" r="9.05"/>
<circle cx="380.3" cy="1296" r="9.05"/>
<circle cx="388.4" cy="1321.8" r="9.05"/>
<circle cx="260.8" cy="1311.9" r="9.05"/>
<circle cx="341" cy="1274.1" r="9.05"/>
<circle cx="232" cy="1346.8" r="9.05"/>
<circle cx="272.1" cy="1361.6" r="9.05"/>
<circle cx="340.1" cy="1289.9" r="9.05"/>
<circle cx="406.2" cy="1302.7" r="9.05"/>
<circle cx="277.4" cy="1374.1" r="9.05"/>
<circle cx="281.4" cy="1351.5" r="9.05"/>
<circle cx="313.9" cy="1273.2" r="9.05"/>
<circle cx="272.8" cy="1312.2" r="9.05"/>
<circle cx="372.2" cy="1334.2" r="9.05"/>
<circle cx="360.6" cy="1252.7" r="9.05"/>
<circle cx="367.8" cy="1302.7" r="9.05"/>
<circle cx="238.2" cy="1338.8" r="9.05"/>
<circle cx="418.5" cy="1287.1" r="9.05"/>
<circle cx="262.2" cy="1385.1" r="9.05"/>
<circle cx="354.2" cy="1345.3" r="9.05"/>
<circle cx="268.4" cy="1324.2" r="9.05"/>
<circle cx="397" cy="1280.7" r="9.05"/>
<circle cx="359.6" cy="1242.4" r="9.05"/>
<circle cx="355.8" cy="1319.7" r="9.05"/>
<circle cx="253.1" cy="1326.9" r="9.05"/>
<circle cx="395.1" cy="1243" r="9.05"/>
<circle cx="291.7" cy="1326" r="9.05"/>
<circle cx="247.6" cy="1375.3" r="9.05"/>
<circle cx="347.4" cy="1288.1" r="9.05"/>
<circle cx="249.8" cy="1315.4" r="9.05"/>
<circle cx="293" cy="1315.7" r="9.05"/>
<circle cx="249.3" cy="1324.6" r="9.05"/>
<circle cx="353.9" cy="1307.1" r="9.05"/>
<circle cx="373.7" cy="1284.8" r="9.05"/>
<circle cx="293" cy="1363.7" r="9.05"/>
<circle cx="267" cy="1310.9" r="9.05"/>
<circle cx="377.5" cy="1236.7" r="9.05"/>
<circle cx="368.3" cy="1256.6" r="9.05"/>
<circle cx="370.5" cy="1321.8" r="9.05"/>
<circle cx="345.7" cy="1259.1" r="9.05"/>
<circle cx="387.5" cy="1271" r="9.05"/>
<circle cx="334.4" cy="1259.7" r="9.05"/>
<circle cx="388.6" cy="1292.9" r="9.05"/>
<circle cx="310.3" cy="1347.7" r="9.05"/>
<circle cx="331.3" cy="1260.4" r="9.05"/>
<circle cx="299" cy="1297.3" r="9.05"/>
<circle cx="283" cy="1374.8" r="9.05"/>
<circle cx="402.7" cy="1319.9" r="9.05"/>
<circle cx="348.8" cy="1315.5" r="9.05"/>
<circle cx="277.6" cy="1379.7" r="9.05"/>
<circle cx="255.6" cy="1353.1" r="9.05"/>
<circle cx="368.7" cy="1259.2" r="9.05"/>
<circle cx="353.7" cy="1303.1" r="9.05"/>
<circle cx="405.9" cy="1285.5" r="9.05"/>
<circle cx="282.8" cy="1331.9" r="9.05"/>
<circle cx="293.9" cy="1343.4" r="9.05"/>
<circle cx="322.7" cy="1306.3" r="9.05"/>
<circle cx="327.5" cy="1300" r="9.05"/>
<circle cx="286.3" cy="1357.3" r="9.05"/>
<circle cx="396.9" cy="1275.2" r="9.05"/>
<circle cx="266.2" cy="1301.5" r="9.05"/>
<circle cx="327.7" cy="1349.7" r="9.05"/>
<circle cx="319.8" cy="1350.9" r="9.05"/>
<circle cx="340.9" cy="1325.2" r="9.05"/>
<circle cx="370" cy="1296.8" r="9.05"/>
<circle cx="364.9" cy="1330.4" r="9.05"/>
<circle cx="268.6" cy="1331.4" r="9.05"/>
<circle cx="342.3" cy="1345.3" r="9.05"/>
<circle cx="402.6" cy="1263.1" r="9.05"/>
<circle cx="400.8" cy="1257.8" r="9.05"/>
<circle cx="392" cy="1307.3" r="9.05"/>
<circle cx="384.3" cy="1315.2" r="9.05"/>
<circle cx="358.5" cy="1312.9" r="9.05"/>
<circle cx="296.3" cy="1305" r="9.05"/>
<circle cx="385.6" cy="1257.3" r="9.05"/>
<circle cx="237.2" cy="1367.5" r="9.05"/>
<circle cx="341.7" cy="1316" r="9.05"/>
<circle cx="322.4" cy="1336.3" r="9.05"/>
<circle cx="336" cy="1336.6" r="9.05"/>
<circle cx="394.3" cy="1250.6" r="9.05"/>
<circle cx="341.5" cy="1308.5" r="9.05"/>
<circle cx="405.1" cy="1237.3" r="9.05"/>
<circle cx="300.9" cy="1305.5" r="9.05"/>
<circle cx="395.6" cy="1242.4" r="9.05"/>
<circle cx="318.2" cy="1289.7" r="9.05"/>
<circle cx="359.8" cy="1266.6" r="9.05"/>
<circle cx="306.2" cy="1362.2" r="9.05"/>
<circle cx="287.1" cy="1298.5" r="9.05"/>
<circle cx="376.9" cy="1241.2" r="9.05"/>
<circle cx="350.3" cy="1338.8" r="9.05"/>
<circle cx="351.2" cy="1265.6" r="9.05"/>
<circle cx="347.9" cy="1302.3" r="9.05"/>
<circle cx="392.4" cy="1262.8" r="9.05"/>
<circle cx="330.2" cy="1321.3" r="9.05"/>
<circle cx="317.6" cy="1323.5" r="9.05"/>
<circle cx="408.8" cy="1277.3" r="9.05"/>
<circle cx="295.4" cy="1378" r="9.05"/>
<circle cx="318.2" cy="1343.9" r="9.05"/>
<circle cx="371.4" cy="1261.2" r="9.05"/>
<circle cx="371.5" cy="1290.9" r="9.05"/>
<circle cx="374.4" cy="1248" r="9.05"/>
<circle cx="237.9" cy="1363.5" r="9.05"/>
<circle cx="282.7" cy="1295.9" r="9.05"/>
<circle cx="295.3" cy="1309.9" r="9.05"/>
<circle cx="309.7" cy="1352.7" r="9.05"/>
<circle cx="310.2" cy="1329.2" r="9.05"/>
<circle cx="242.9" cy="1372.6" r="9.05"/>
<circle cx="400.5" cy="1301" r="9.05"/>
<circle cx="411.5" cy="1307.1" r="9.05"/>
<circle cx="335.1" cy="1247.7" r="9.05"/>
<circle cx="321.9" cy="1333.7" r="9.05"/>
<circle cx="327.3" cy="1318.3" r="9.05"/>
<circle cx="354.8" cy="1292.4" r="9.05"/>
<circle cx="266" cy="1341.3" r="9.05"/>
<circle cx="312.9" cy="1364.4" r="9.05"/>
<circle cx="270.7" cy="1352.2" r="9.05"/>
<circle cx="307.2" cy="1295.1" r="9.05"/>
<circle cx="394.8" cy="1325.1" r="9.05"/>
<circle cx="249.3" cy="1338.9" r="9.05"/>
<circle cx="326.6" cy="1330.4" r="9.05"/>
<circle cx="381.4" cy="1278.6" r="9.05"/>
<circle cx="250.5" cy="1348.4" r="9.05"/>
<circle cx="414" cy="1259.6" r="9.05"/>
<circle cx="281.3" cy="1302.7" r="9.05"/>
<circle cx="401.7" cy="1283.4" r="9.05"/>
<circle cx="293.8" cy="1339.5" r="9.05"/>
<circle cx="367" cy="1344.1" r="9.05"/>
<circle cx="328.6" cy="1302" r="9.05"/>
<circle cx="408.5" cy="1247.8" r="9.05"/>
<circle cx="367.9" cy="1240.2" r="9.05"/>
<circle cx="362.6" cy="1294.8" r="9.05"/>
<circle cx="341.2" cy="1262.4" r="9.05"/>
<circle cx="366.3" cy="1272.9" r="9.05"/>
<circle cx="318.4" cy="1350.5" r="9.05"/>
<circle cx="296.8" cy="1351.9" r="9.05"/>
<circle cx="294.9" cy="1336.3" r="9.05"/>
<circle cx="336.4" cy="1306.8" r="9.05"/>
<circle cx="402.1" cy="1244.6" r="9.05"/>
<circle cx="327.8" cy="1306.6" r="9.05"/>
<circle cx="316.5" cy="1306.2" r="9.05"/>
<circle cx="323.6" cy="1289.5" r="9.05"/>
<circle cx="410.3" cy="1261.4" r="9.05"/>
<circle cx="366.5" cy="1294.9" r="9.05"/>
<circle cx="267.7" cy="1305.4" r="9.05"/>
<circle cx="287.8" cy="1335.9" r="9.05"/>
<circle cx="283.9" cy="1346.8" r="9.05"/>
<circle cx="265" cy="1341.1" r="9.05"/>
<circle cx="385.2" cy="1335.8" r="9.05"/>
<circle cx="337.3" cy="1330.6" r="9.05"/>
<circle cx="310.7" cy="1331.6" r="9.05"/>
<circle cx="257.4" cy="1346.3" r="9.05"/>
<circle cx="309.5" cy="1289.4" r="9.05"/>
<circle cx="258" cy="1316.1" r="9.05"/>
<circle cx="249.5" cy="1363.1" r="9.05"/>
<circle cx="260" cy="1382.3" r="9.05"/>
<circle cx="345.4" cy="1351.5" r="9.05"/>
<circle cx="302.1" cy="1278.4" r="9.05"/>
<circle cx="402.9" cy="1321.5" r="9.05"/>
<circle cx="332.3" cy="1336.4" r="9.05"/>
<circle cx="335.8" cy="1275.4" r="9.05"/>
<circle cx="197" cy="1389.1" r="9.05"/>
<circle cx="299.1" cy="1398.3" r="9.05"/>
<circle cx="388.6" cy="1377.4" r="9.05"/>
<circle cx="366.2" cy="1350.6" r="9.05"/>
<circle cx="327.4" cy="1376.7" r="9.05"/>
<circle cx="249.9" cy="1390.9" r="9.05"/>
<circle cx="220.1" cy="1355.1" r="9.05"/>
<circle cx="223.8" cy="1327.5" r="9.05"/>
<circle cx="299.1" cy="1259.6" r="9.05"/>
<circle cx="315.5" cy="1250.7" r="9.05"/>
<circle cx="337.9" cy="1234.3" r="9.05"/>
<circle cx="323.7" cy="1240.3" r="9.05"/>
<circle cx="279.7" cy="1281.3" r="9.05"/>
<circle cx="267.8" cy="1288" r="9.05"/>
<circle cx="274.9" cy="1254.4" r="9.05"/>
<circle cx="211.1" cy="1383.4" r="9.05"/>
<circle cx="290.2" cy="1409.9" r="9.05"/>
<circle cx="379.6" cy="1389.4" r="9.05"/>
<circle cx="416.2" cy="1343.1" r="9.05"/>
<circle cx="418.4" cy="1322.3" r="9.05"/>
<circle cx="426.6" cy="1302.9" r="9.05"/>
<circle cx="431.8" cy="1279.8" r="9.05"/>
<circle cx="389.3" cy="1348.4" r="9.05"/>
<circle cx="383.3" cy="1325.2" r="9.05"/>
<circle cx="349.8" cy="1331.2" r="9.05"/>
<circle cx="350.5" cy="1351.3" r="9.05"/>
<circle cx="321.5" cy="1367" r="9.05"/>
<circle cx="311" cy="1389.4" r="9.05"/>
<circle cx="283.4" cy="1381.2" r="9.05"/>
<circle cx="244.7" cy="1377.4" r="9.05"/>
<circle cx="263.3" cy="1367" r="9.05"/>
<circle cx="233.5" cy="1358.1" r="9.05"/>
<circle cx="215.6" cy="1362.5" r="9.05"/>
<circle cx="249.9" cy="1349.9" r="9.05"/>
<circle cx="258.8" cy="1335.7" r="9.05"/>
<circle cx="287.9" cy="1324.5" r="9.05"/>
<circle cx="291.6" cy="1343.1" r="9.05"/>
<circle cx="322.2" cy="1331.2" r="9.05"/>
<circle cx="308.8" cy="1315.6" r="9.05"/>
<circle cx="343.8" cy="1316.3" r="9.05"/>
<circle cx="255.9" cy="1318.5" r="9.05"/>
<circle cx="243.2" cy="1305.9" r="9.05"/>
<circle cx="262.6" cy="1295.4" r="9.05"/>
<circle cx="279" cy="1305.1" r="9.05"/>
<circle cx="235" cy="1325.2" r="9.05"/>
<circle cx="315.5" cy="1293.9" r="9.05"/>
<circle cx="355" cy="1301.4" r="9.05"/>
<circle cx="338.6" cy="1301.4" r="9.05"/>
<circle cx="355" cy="1284.2" r="9.05"/>
<circle cx="367.7" cy="1280.5" r="9.05"/>
<circle cx="301.3" cy="1270.1" r="9.05"/>
<circle cx="319.2" cy="1265.6" r="9.05"/>
<circle cx="344.6" cy="1262.6" r="9.05"/>
<circle cx="330.4" cy="1252.9" r="9.05"/>
<circle cx="378.1" cy="1269.3" r="9.05"/>
<circle cx="405" cy="1262.6" r="9.05"/>
<circle cx="384.1" cy="1245.5" r="9.05"/>
<circle cx="361" cy="1247.7" r="9.05"/>
<circle cx="359.5" cy="1232.1" r="9.05"/>
<circle cx="399" cy="1240.3" r="9.05"/>
<circle cx="418.4" cy="1241" r="9.05"/>
<circle cx="329.7" cy="1220.9" r="9.05"/>
<circle cx="346.8" cy="1217.1" r="9.05"/>
<circle cx="364.7" cy="1209.7" r="9.05"/>
<circle cx="402" cy="1223.9" r="9.05"/>
<circle cx="305.1" cy="1208.9" r="9.05"/>
<circle cx="323" cy="1203" r="9.05"/>
<circle cx="415.4" cy="1201.5" r="9.05"/>
<circle cx="405" cy="1297.7" r="9.05"/>
<circle cx="388.6" cy="1298.4" r="9.05"/>
<circle cx="425.8" cy="1282" r="9.05"/>
<circle cx="542.6" cy="1143.4" r="9.05"/>
<circle cx="531.4" cy="1139" r="9.05"/>
<circle cx="462.8" cy="1175.5" r="9.05"/>
<circle cx="496.4" cy="1201.6" r="9.05"/>
<circle cx="468" cy="1199.4" r="9.05"/>
<circle cx="452.4" cy="1221.7" r="9.05"/>
<circle cx="594.5" cy="1034.2" r="9.05"/>
<circle cx="700.2" cy="1049.1" r="9.05"/>
<circle cx="522.4" cy="1127.8" r="9.05"/>
<circle cx="540.8" cy="1162.8" r="9.05"/>
<circle cx="430" cy="1134.5" r="9.05"/>
<circle cx="438.2" cy="1164.3" r="9.05"/>
<circle cx="454.2" cy="1165.1" r="9.05"/>
<circle cx="447.9" cy="1184.8" r="9.05"/>
<circle cx="473.2" cy="1186.7" r="9.05"/>
<circle cx="482.9" cy="1197.1" r="9.05"/>
<circle cx="449.4" cy="1207.6" r="9.05"/>
<circle cx="474.7" cy="1216.5" r="9.05"/>
<circle cx="475.6" cy="1217.3" r="9.05"/>
<circle cx="502.3" cy="1223.2" r="9.05"/>
<circle cx="502.8" cy="1225.6" r="9.05"/>
<circle cx="444.9" cy="1232.9" r="9.05"/>
<circle cx="462.1" cy="1235.1" r="9.05"/>
<circle cx="480" cy="1237.4" r="9.05"/>
<circle cx="485" cy="1264.1" r="9.05"/>
<circle cx="478.3" cy="1273.8" r="9.05"/>
<circle cx="443.2" cy="1267.8" r="9.05"/>
<circle cx="537.2" cy="1246.5" r="9.05"/>
<circle cx="497.7" cy="1257" r="9.05"/>
<circle cx="458.2" cy="1265.6" r="9.05"/>
<circle cx="442.5" cy="1249.2" r="9.05"/>
<circle cx="436.5" cy="1333.9" r="9.05"/>
<circle cx="479.8" cy="1323.8" r="9.05"/>
<circle cx="558.1" cy="1299.6" r="9.05"/>
<circle cx="398" cy="1154.8" r="9.05"/>
<circle cx="424.5" cy="1163" r="9.05"/>
<circle cx="309.4" cy="1195" r="9.05"/>
<circle cx="393.2" cy="1196.5" r="9.05"/>
<circle cx="416.3" cy="1189.8" r="9.05"/>
<circle cx="382" cy="1107.8" r="9.05"/>
<circle cx="385" cy="1129" r="9.05"/>
<circle cx="396.5" cy="1146.3" r="9.05"/>
<circle cx="420.1" cy="1171.2" r="9.05"/>
<circle cx="326.1" cy="1179.8" r="9.05"/>
<circle cx="369.4" cy="1180.6" r="9.05"/>
<circle cx="383.5" cy="1188.3" r="9.05"/>
<circle cx="347.7" cy="1193.5" r="9.05"/>
<circle cx="402.2" cy="1206.2" r="9.05"/>
<circle cx="385" cy="1213.7" r="9.05"/>
<circle cx="746.9" cy="1105.9" r="9.05"/>
</g>
<line x1="128" y1="1464" x2="989.39" y2="801.92" stroke="#000" stroke-width="3.6" stroke-dasharray="3.5 9.075"/>
<g fill="#efefef" stroke="#000" stroke-width="2.6">
</g>
<rect x="128" y="801.5" width="860.8" height="662.5" fill="none" stroke="#000" stroke-width="3.75" stroke-linejoin="round"/>
<path d="M128 1464V1472.6M254.68 1464V1472.6M381.35 1464V1472.6M508.03 1464V1472.6M634.7 1464V1472.6M761.38 1464V1472.6M888.05 1464V1472.6M128 1464H119.5M128 1366.63H119.5M128 1269.27H119.5M128 1171.9H119.5M128 1074.54H119.5M128 977.17H119.5M128 879.81H119.5" stroke="#000" stroke-width="3.75" fill="none"/>
<text transform="translate(126.9 1501.5) rotate(0.03) scale(0.965 1)" font-size="33.3" stroke-width="0.6" text-anchor="middle">0</text>
<text transform="translate(253.58 1501.5) rotate(0.03) scale(0.965 1)" font-size="33.3" stroke-width="0.6" text-anchor="middle">50</text>
<text transform="translate(380.25 1501.5) rotate(0.03) scale(0.965 1)" font-size="33.3" stroke-width="0.6" text-anchor="middle">100</text>
<text transform="translate(506.93 1501.5) rotate(0.03) scale(0.965 1)" font-size="33.3" stroke-width="0.6" text-anchor="middle">150</text>
<text transform="translate(633.6 1501.5) rotate(0.03) scale(0.965 1)" font-size="33.3" stroke-width="0.6" text-anchor="middle">200</text>
<text transform="translate(760.27 1501.5) rotate(0.03) scale(0.965 1)" font-size="33.3" stroke-width="0.6" text-anchor="middle">250</text>
<text transform="translate(886.95 1501.5) rotate(0.03) scale(0.965 1)" font-size="33.3" stroke-width="0.6" text-anchor="middle">300</text>
<text transform="translate(90.1 1476.8) rotate(0.03) scale(0.965 1)" font-size="33.3" stroke-width="0.6" text-anchor="middle">0</text>
<text transform="translate(90.1 1379.43) rotate(0.03) scale(0.965 1)" font-size="33.3" stroke-width="0.6" text-anchor="middle">50</text>
<text transform="translate(90.1 1282.07) rotate(0.03) scale(0.965 1)" font-size="33.3" stroke-width="0.6" text-anchor="middle">100</text>
<text transform="translate(90.1 1184.7) rotate(0.03) scale(0.965 1)" font-size="33.3" stroke-width="0.6" text-anchor="middle">150</text>
<text transform="translate(90.1 1087.34) rotate(0.03) scale(0.965 1)" font-size="33.3" stroke-width="0.6" text-anchor="middle">200</text>
<text transform="translate(90.1 989.97) rotate(0.03) scale(0.965 1)" font-size="33.3" stroke-width="0.6" text-anchor="middle">250</text>
<text transform="translate(90.1 892.61) rotate(0.03) scale(0.965 1)" font-size="33.3" stroke-width="0.6" text-anchor="middle">300</text>
<text transform="translate(557.6 1542.8) rotate(0.03) scale(0.978 1)" font-size="39.0" stroke-width="0.6" text-anchor="middle">LV Mass TEICH Echo (g/m²)</text>
<text transform="translate(47 1133.75) rotate(-89.97) scale(0.978 1)" font-size="39.0" stroke-width="0.45" text-anchor="middle">LV Mass CMR (g/m²)</text>
<text transform="translate(162.2 893.6) rotate(0.03) scale(0.983 1)" font-size="42.5" stroke-width="0.6">y = 0.78*x + 19</text>
</g>
<g id="BR">
<g fill="#efefef" stroke="#000" stroke-width="2.6">
<circle cx="1434.7" cy="1169" r="9.05"/>
<circle cx="1302.5" cy="1084.3" r="9.05"/>
<circle cx="1397.5" cy="1091.8" r="9.05"/>
<circle cx="1335.5" cy="1190.2" r="9.05"/>
<circle cx="1449.7" cy="1135.9" r="9.05"/>
<circle cx="1265.9" cy="1112.3" r="9.05"/>
<circle cx="1383.2" cy="1080.7" r="9.05"/>
<circle cx="1371.7" cy="1189.9" r="9.05"/>
<circle cx="1401.7" cy="1095.4" r="9.05"/>
<circle cx="1305.3" cy="1186.2" r="9.05"/>
<circle cx="1279.4" cy="1168.5" r="9.05"/>
<circle cx="1449.4" cy="1138.3" r="9.05"/>
<circle cx="1264.8" cy="1144.3" r="9.05"/>
<circle cx="1417.3" cy="1104.8" r="9.05"/>
<circle cx="1438.5" cy="1122.9" r="9.05"/>
<circle cx="1337" cy="1189.2" r="9.05"/>
<circle cx="1268.3" cy="1109.6" r="9.05"/>
<circle cx="1318" cy="1188.3" r="9.05"/>
<circle cx="1309.1" cy="1190.4" r="9.05"/>
<circle cx="1297.5" cy="1166" r="9.05"/>
<circle cx="1367" cy="1075.4" r="9.05"/>
<circle cx="1379.3" cy="1188.6" r="9.05"/>
<circle cx="1418.8" cy="1185.2" r="9.05"/>
<circle cx="1406.9" cy="1102" r="9.05"/>
<circle cx="1433.7" cy="1176.7" r="9.05"/>
<circle cx="1286.9" cy="1163.8" r="9.05"/>
<circle cx="1288.4" cy="1088" r="9.05"/>
<circle cx="1358" cy="1126.6" r="9.05"/>
<circle cx="1348.7" cy="1128.7" r="9.05"/>
<circle cx="1298.5" cy="1178.7" r="9.05"/>
<circle cx="1422.6" cy="1180.5" r="9.05"/>
<circle cx="1318.1" cy="1191.6" r="9.05"/>
<circle cx="1334.1" cy="1090" r="9.05"/>
<circle cx="1330.2" cy="1183.7" r="9.05"/>
<circle cx="1366" cy="1133.7" r="9.05"/>
<circle cx="1303.9" cy="1172.7" r="9.05"/>
<circle cx="1445" cy="1157.5" r="9.05"/>
<circle cx="1411.3" cy="1105.1" r="9.05"/>
<circle cx="1293" cy="1178.5" r="9.05"/>
<circle cx="1339" cy="1076.9" r="9.05"/>
<circle cx="1313.3" cy="1188.7" r="9.05"/>
<circle cx="1448.5" cy="1132.3" r="9.05"/>
<circle cx="1437.8" cy="1163.2" r="9.05"/>
<circle cx="1352.4" cy="1141.8" r="9.05"/>
<circle cx="1299.4" cy="1178.6" r="9.05"/>
<circle cx="1293.9" cy="1186.4" r="9.05"/>
<circle cx="1353.6" cy="1162.3" r="9.05"/>
<circle cx="1313.9" cy="1121.2" r="9.05"/>
<circle cx="1335.4" cy="1188.8" r="9.05"/>
<circle cx="1312.7" cy="1186.6" r="9.05"/>
<circle cx="1305.9" cy="1178.5" r="9.05"/>
<circle cx="1406.2" cy="1178.7" r="9.05"/>
<circle cx="1376.7" cy="1080.7" r="9.05"/>
<circle cx="1388.7" cy="1110.1" r="9.05"/>
<circle cx="1347.9" cy="1137.3" r="9.05"/>
<circle cx="1381.5" cy="1150.3" r="9.05"/>
<circle cx="1349.4" cy="1126.2" r="9.05"/>
<circle cx="1347.9" cy="1090.3" r="9.05"/>
<circle cx="1395.8" cy="1148.9" r="9.05"/>
<circle cx="1263" cy="1136.8" r="9.05"/>
<circle cx="1384.7" cy="1161" r="9.05"/>
<circle cx="1448.6" cy="1125.6" r="9.05"/>
<circle cx="1368.8" cy="1190.6" r="9.05"/>
<circle cx="1363.3" cy="1077.1" r="9.05"/>
<circle cx="1354.3" cy="1179" r="9.05"/>
<circle cx="1453.2" cy="1143.8" r="9.05"/>
<circle cx="1289.7" cy="1176.9" r="9.05"/>
<circle cx="1433.9" cy="1112" r="9.05"/>
<circle cx="1310.8" cy="1179" r="9.05"/>
<circle cx="1293.9" cy="1120.7" r="9.05"/>
<circle cx="1425.3" cy="1171.4" r="9.05"/>
<circle cx="1343.9" cy="1116.7" r="9.05"/>
<circle cx="1330.1" cy="1093.5" r="9.05"/>
<circle cx="1283.6" cy="1119.4" r="9.05"/>
<circle cx="1446" cy="1154.5" r="9.05"/>
<circle cx="1270.4" cy="1142.5" r="9.05"/>
<circle cx="1277.7" cy="1134.2" r="9.05"/>
<circle cx="1324.1" cy="1086.3" r="9.05"/>
<circle cx="1371.7" cy="1081.8" r="9.05"/>
<circle cx="1307.9" cy="1173.4" r="9.05"/>
<circle cx="1303.9" cy="1083.4" r="9.05"/>
<circle cx="1339.1" cy="1182.2" r="9.05"/>
<circle cx="1323.3" cy="1142.5" r="9.05"/>
<circle cx="1328.3" cy="1165.4" r="9.05"/>
<circle cx="1378.7" cy="1143.2" r="9.05"/>
<circle cx="1368.7" cy="1185.4" r="9.05"/>
<circle cx="1322.6" cy="1093.2" r="9.05"/>
<circle cx="1447.1" cy="1146.2" r="9.05"/>
<circle cx="1310.5" cy="1095" r="9.05"/>
<circle cx="1383.2" cy="1163.2" r="9.05"/>
<circle cx="1388.9" cy="1166.7" r="9.05"/>
<circle cx="1419.2" cy="1119.4" r="9.05"/>
<circle cx="1424.8" cy="1131.6" r="9.05"/>
<circle cx="1295.9" cy="1158.1" r="9.05"/>
<circle cx="1325.9" cy="1081.3" r="9.05"/>
<circle cx="1299.8" cy="1157.9" r="9.05"/>
<circle cx="1407.1" cy="1168.4" r="9.05"/>
<circle cx="1390.2" cy="1090.2" r="9.05"/>
<circle cx="1346" cy="1162.9" r="9.05"/>
<circle cx="1412.3" cy="1166.6" r="9.05"/>
<circle cx="1394.4" cy="1157.1" r="9.05"/>
<circle cx="1393.5" cy="1127.3" r="9.05"/>
<circle cx="1317.8" cy="1134.7" r="9.05"/>
<circle cx="1336.3" cy="1138.2" r="9.05"/>
<circle cx="1263.1" cy="1128.2" r="9.05"/>
<circle cx="1407.5" cy="1133.5" r="9.05"/>
<circle cx="1398.7" cy="1139.2" r="9.05"/>
<circle cx="1400.8" cy="1136" r="9.05"/>
<circle cx="1314.8" cy="1138.7" r="9.05"/>
<circle cx="1422.9" cy="1114.3" r="9.05"/>
<circle cx="1286.3" cy="1095.8" r="9.05"/>
<circle cx="1365" cy="1100.6" r="9.05"/>
<circle cx="1288.5" cy="1115" r="9.05"/>
<circle cx="1396.2" cy="1163.4" r="9.05"/>
<circle cx="1432" cy="1118" r="9.05"/>
<circle cx="1318.1" cy="1174.9" r="9.05"/>
<circle cx="1351.1" cy="1093.7" r="9.05"/>
<circle cx="1403.2" cy="1103.7" r="9.05"/>
<circle cx="1346.8" cy="1077.7" r="9.05"/>
<circle cx="1320.8" cy="1150.4" r="9.05"/>
<circle cx="1357.6" cy="1116.5" r="9.05"/>
<circle cx="1390.5" cy="1184.2" r="9.05"/>
<circle cx="1321" cy="1086" r="9.05"/>
<circle cx="1353.2" cy="1187.3" r="9.05"/>
<circle cx="1409.1" cy="1116.2" r="9.05"/>
<circle cx="1394.5" cy="1109.1" r="9.05"/>
<circle cx="1364.6" cy="1123.1" r="9.05"/>
<circle cx="1283.1" cy="1139.5" r="9.05"/>
<circle cx="1307.9" cy="1119.4" r="9.05"/>
<circle cx="1402.9" cy="1115" r="9.05"/>
<circle cx="1392.7" cy="1160" r="9.05"/>
<circle cx="1397.7" cy="1107.1" r="9.05"/>
<circle cx="1357.6" cy="1085.2" r="9.05"/>
<circle cx="1285.2" cy="1110.8" r="9.05"/>
<circle cx="1368" cy="1175" r="9.05"/>
<circle cx="1441.6" cy="1142.2" r="9.05"/>
<circle cx="1300.3" cy="1112.1" r="9.05"/>
<circle cx="1357.6" cy="1084.7" r="9.05"/>
<circle cx="1283.5" cy="1123.9" r="9.05"/>
<circle cx="1364.3" cy="1103.5" r="9.05"/>
<circle cx="1372.8" cy="1145.2" r="9.05"/>
<circle cx="1359" cy="1116.1" r="9.05"/>
<circle cx="1272.9" cy="1121.6" r="9.05"/>
<circle cx="1405.1" cy="1143.2" r="9.05"/>
<circle cx="1306.7" cy="1162" r="9.05"/>
<circle cx="1331.7" cy="1174.7" r="9.05"/>
<circle cx="1322.2" cy="1185.3" r="9.05"/>
<circle cx="1401.3" cy="1156.4" r="9.05"/>
<circle cx="1275.3" cy="1165.6" r="9.05"/>
<circle cx="1394.7" cy="1119.8" r="9.05"/>
<circle cx="1312.3" cy="1167" r="9.05"/>
<circle cx="1301.9" cy="1135.9" r="9.05"/>
<circle cx="1429" cy="1119" r="9.05"/>
<circle cx="1426.7" cy="1170.9" r="9.05"/>
<circle cx="1357.4" cy="1143.4" r="9.05"/>
<circle cx="1392.4" cy="1103.6" r="9.05"/>
<circle cx="1405.7" cy="1148" r="9.05"/>
<circle cx="1307.7" cy="1088.4" r="9.05"/>
<circle cx="1417.3" cy="1174.9" r="9.05"/>
<circle cx="1386" cy="1137" r="9.05"/>
<circle cx="1367.2" cy="1179.4" r="9.05"/>
<circle cx="1370.2" cy="1103.8" r="9.05"/>
<circle cx="1312.4" cy="1172.1" r="9.05"/>
<circle cx="1378.3" cy="1085.7" r="9.05"/>
<circle cx="1416.1" cy="1170.5" r="9.05"/>
<circle cx="1279.7" cy="1148.7" r="9.05"/>
<circle cx="1403.8" cy="1099.3" r="9.05"/>
<circle cx="1348.8" cy="1187.2" r="9.05"/>
<circle cx="1398.4" cy="1187.1" r="9.05"/>
<circle cx="1285.4" cy="1169.3" r="9.05"/>
<circle cx="1313.8" cy="1131.9" r="9.05"/>
<circle cx="1353.5" cy="1189" r="9.05"/>
<circle cx="1388.1" cy="1120" r="9.05"/>
<circle cx="1399.8" cy="1100.2" r="9.05"/>
<circle cx="1442.4" cy="1123.2" r="9.05"/>
<circle cx="1294.5" cy="1093.8" r="9.05"/>
<circle cx="1417.2" cy="1111.8" r="9.05"/>
<circle cx="1384" cy="1131.4" r="9.05"/>
<circle cx="1270.9" cy="1164.5" r="9.05"/>
<circle cx="1316.6" cy="1112" r="9.05"/>
<circle cx="1324.2" cy="1102.7" r="9.05"/>
<circle cx="1272.4" cy="1119.4" r="9.05"/>
<circle cx="1337.8" cy="1177.7" r="9.05"/>
<circle cx="1383.4" cy="1182.6" r="9.05"/>
<circle cx="1383.5" cy="1176.8" r="9.05"/>
<circle cx="1431.7" cy="1142.6" r="9.05"/>
<circle cx="1319.3" cy="1158.4" r="9.05"/>
<circle cx="1302.3" cy="1092.2" r="9.05"/>
<circle cx="1296.4" cy="1102.6" r="9.05"/>
<circle cx="1343" cy="1098.1" r="9.05"/>
<circle cx="1394.9" cy="1097" r="9.05"/>
<circle cx="1292.3" cy="1146" r="9.05"/>
<circle cx="1346.5" cy="1144.8" r="9.05"/>
<circle cx="1336.5" cy="1130.4" r="9.05"/>
<circle cx="1309.4" cy="1105.7" r="9.05"/>
<circle cx="1384.6" cy="1099.7" r="9.05"/>
<circle cx="1413.1" cy="1147.9" r="9.05"/>
<circle cx="1361.2" cy="1150.2" r="9.05"/>
<circle cx="1422.7" cy="1132.5" r="9.05"/>
<circle cx="1316.6" cy="1163.5" r="9.05"/>
<circle cx="1418.6" cy="1108.4" r="9.05"/>
<circle cx="1398.6" cy="1174" r="9.05"/>
<circle cx="1339.6" cy="1116.2" r="9.05"/>
<circle cx="1409.3" cy="1139.6" r="9.05"/>
<circle cx="1422.4" cy="1105.8" r="9.05"/>
<circle cx="1334.9" cy="1178.5" r="9.05"/>
<circle cx="1368.5" cy="1083.7" r="9.05"/>
<circle cx="1365.4" cy="1172.4" r="9.05"/>
<circle cx="1430.7" cy="1156.5" r="9.05"/>
<circle cx="1304.8" cy="1144.7" r="9.05"/>
<circle cx="1338.9" cy="1147.4" r="9.05"/>
<circle cx="1418.9" cy="1148.3" r="9.05"/>
<circle cx="1445.6" cy="1163.9" r="9.05"/>
<circle cx="1338" cy="1161.2" r="9.05"/>
<circle cx="1275.4" cy="1156.9" r="9.05"/>
<circle cx="1425.7" cy="1142" r="9.05"/>
<circle cx="1420.9" cy="1141.2" r="9.05"/>
<circle cx="1446.6" cy="1133" r="9.05"/>
<circle cx="1322.1" cy="1164.7" r="9.05"/>
<circle cx="1371.9" cy="1095.5" r="9.05"/>
<circle cx="1403.8" cy="1131.3" r="9.05"/>
<circle cx="1338" cy="1110.6" r="9.05"/>
<circle cx="1397.9" cy="1119.7" r="9.05"/>
<circle cx="1284.7" cy="1149" r="9.05"/>
<circle cx="1321.5" cy="1176.6" r="9.05"/>
<circle cx="1434.9" cy="1131.9" r="9.05"/>
<circle cx="1440.5" cy="1163.3" r="9.05"/>
<circle cx="1364.7" cy="1189" r="9.05"/>
<circle cx="1373.9" cy="1154.3" r="9.05"/>
<circle cx="1349.5" cy="1153.7" r="9.05"/>
<circle cx="1432.9" cy="1164.7" r="9.05"/>
<circle cx="1368.4" cy="1149.5" r="9.05"/>
<circle cx="1326.8" cy="1149.4" r="9.05"/>
<circle cx="1363.1" cy="1145.1" r="9.05"/>
<circle cx="1325.4" cy="1121.6" r="9.05"/>
<circle cx="1288.8" cy="1131.5" r="9.05"/>
<circle cx="1365.8" cy="1086.1" r="9.05"/>
<circle cx="1270.1" cy="1131.7" r="9.05"/>
<circle cx="1416.8" cy="1158.9" r="9.05"/>
<circle cx="1416.8" cy="1179.5" r="9.05"/>
<circle cx="1291.3" cy="1133.3" r="9.05"/>
<circle cx="1311.6" cy="1140" r="9.05"/>
<circle cx="1287.2" cy="1131.8" r="9.05"/>
<circle cx="1334.1" cy="1104.8" r="9.05"/>
<circle cx="1353" cy="1110" r="9.05"/>
<circle cx="1391.3" cy="1095.8" r="9.05"/>
<circle cx="1373.3" cy="1126.8" r="9.05"/>
<circle cx="1278" cy="1097.1" r="9.05"/>
<circle cx="1375.4" cy="1109.3" r="9.05"/>
<circle cx="1266.5" cy="1122" r="9.05"/>
<circle cx="1332.8" cy="1127.3" r="9.05"/>
<circle cx="1358.1" cy="1124.4" r="9.05"/>
<circle cx="1361.8" cy="1166.1" r="9.05"/>
<circle cx="1347.2" cy="1100.4" r="9.05"/>
<circle cx="1281.8" cy="1099" r="9.05"/>
<circle cx="1293.3" cy="1149.2" r="9.05"/>
<circle cx="1329" cy="1018.3" r="9.05"/>
<circle cx="1380.4" cy="1025" r="9.05"/>
<circle cx="1367" cy="1040.3" r="9.05"/>
<circle cx="1359.5" cy="1053.8" r="9.05"/>
<circle cx="1438.6" cy="1053.8" r="9.05"/>
<circle cx="1449" cy="1057.5" r="9.05"/>
<circle cx="1299.6" cy="1067.2" r="9.05"/>
<circle cx="1270.1" cy="1071.6" r="9.05"/>
<circle cx="1334.9" cy="1061.2" r="9.05"/>
<circle cx="1352.1" cy="1067.2" r="9.05"/>
<circle cx="1314.1" cy="1075.4" r="9.05"/>
<circle cx="1425.1" cy="1086.6" r="9.05"/>
<circle cx="1400.5" cy="1076.1" r="9.05"/>
<circle cx="1277.5" cy="1083.6" r="9.05"/>
<circle cx="1377.4" cy="1080.6" r="9.05"/>
<circle cx="1358.1" cy="1088.1" r="9.05"/>
<circle cx="1325.2" cy="1100" r="9.05"/>
<circle cx="1289.5" cy="1100" r="9.05"/>
<circle cx="1380.4" cy="1097" r="9.05"/>
<circle cx="1398.3" cy="1100" r="9.05"/>
<circle cx="1313.3" cy="1103" r="9.05"/>
<circle cx="1362.5" cy="1107.4" r="9.05"/>
<circle cx="1455" cy="1105.9" r="9.05"/>
<circle cx="1429.6" cy="1100" r="9.05"/>
<circle cx="1250.7" cy="1112.7" r="9.05"/>
<circle cx="1258.2" cy="1113.4" r="9.05"/>
<circle cx="1268.6" cy="1108.2" r="9.05"/>
<circle cx="1280.5" cy="1111.9" r="9.05"/>
<circle cx="1301.4" cy="1117.9" r="9.05"/>
<circle cx="1375.2" cy="1116.4" r="9.05"/>
<circle cx="1429.6" cy="1114.9" r="9.05"/>
<circle cx="1256.7" cy="1128.3" r="9.05"/>
<circle cx="1426.6" cy="1129.8" r="9.05"/>
<circle cx="1319.3" cy="1129.8" r="9.05"/>
<circle cx="1264.1" cy="1144.7" r="9.05"/>
<circle cx="1282.8" cy="1138.7" r="9.05"/>
<circle cx="1371.5" cy="1138.7" r="9.05"/>
<circle cx="1392.3" cy="1140.2" r="9.05"/>
<circle cx="1420.7" cy="1144.7" r="9.05"/>
<circle cx="1264.9" cy="1158.9" r="9.05"/>
<circle cx="1291" cy="1159.6" r="9.05"/>
<circle cx="1396.8" cy="1156.6" r="9.05"/>
<circle cx="1414.7" cy="1153.7" r="9.05"/>
<circle cx="1434.1" cy="1161.1" r="9.05"/>
<circle cx="1438.6" cy="1149.2" r="9.05"/>
<circle cx="1462.1" cy="965.3" r="9.05"/>
<circle cx="1408" cy="1002" r="9.05"/>
<circle cx="1316.3" cy="1013.2" r="9.05"/>
<circle cx="1364.5" cy="1031.4" r="9.05"/>
<circle cx="1347.6" cy="1047.8" r="9.05"/>
<circle cx="1378.2" cy="1050" r="9.05"/>
<circle cx="1459.7" cy="1055.7" r="9.05"/>
<circle cx="1460.5" cy="1056" r="9.05"/>
<circle cx="1259.6" cy="1062.4" r="9.05"/>
<circle cx="1282" cy="1066.4" r="9.05"/>
<circle cx="1334.9" cy="1064.9" r="9.05"/>
<circle cx="1365.5" cy="1065.7" r="9.05"/>
<circle cx="1394.6" cy="1063.2" r="9.05"/>
<circle cx="1327.5" cy="1073.9" r="9.05"/>
<circle cx="1358.8" cy="1075.4" r="9.05"/>
<circle cx="1434.8" cy="1077.6" r="9.05"/>
<circle cx="1411.7" cy="1085.1" r="9.05"/>
<circle cx="1462.4" cy="1087.8" r="9.05"/>
<circle cx="1302.1" cy="1081.3" r="9.05"/>
<circle cx="1387.6" cy="1086.3" r="9.05"/>
<circle cx="1273.8" cy="1096.3" r="9.05"/>
<circle cx="1338.7" cy="1094.8" r="9.05"/>
<circle cx="1298.4" cy="1104.5" r="9.05"/>
<circle cx="1437.8" cy="1106.7" r="9.05"/>
<circle cx="1326" cy="1115.6" r="9.05"/>
<circle cx="1344.6" cy="1114.1" r="9.05"/>
<circle cx="1397.6" cy="1112.7" r="9.05"/>
<circle cx="1474.4" cy="1113.4" r="9.05"/>
<circle cx="1360.3" cy="1120.9" r="9.05"/>
<circle cx="1410.2" cy="1122.3" r="9.05"/>
<circle cx="1449" cy="1120.9" r="9.05"/>
<circle cx="1273.1" cy="1127.6" r="9.05"/>
<circle cx="1302.1" cy="1128.3" r="9.05"/>
<circle cx="1378.2" cy="1126.8" r="9.05"/>
<circle cx="1329" cy="1142.5" r="9.05"/>
<circle cx="1313.3" cy="1150.7" r="9.05"/>
<circle cx="1468.4" cy="1143.2" r="9.05"/>
<circle cx="1224.6" cy="1147.6" r="9.05"/>
<circle cx="1225.3" cy="1155.8" r="9.05"/>
<circle cx="1252.2" cy="1167.7" r="9.05"/>
<circle cx="1280.5" cy="1179.6" r="9.05"/>
<circle cx="1279" cy="1196" r="9.05"/>
<circle cx="1288" cy="1190.1" r="9.05"/>
<circle cx="1329.7" cy="1203.5" r="9.05"/>
<circle cx="1338.7" cy="1197.5" r="9.05"/>
<circle cx="1349.1" cy="1170.7" r="9.05"/>
<circle cx="1371.5" cy="1160.3" r="9.05"/>
<circle cx="1447.5" cy="1164.7" r="9.05"/>
<circle cx="1459.4" cy="1185.6" r="9.05"/>
<circle cx="1431.1" cy="1185.6" r="9.05"/>
<circle cx="1353.6" cy="1194.6" r="9.05"/>
<circle cx="1360.3" cy="1205.7" r="9.05"/>
<circle cx="1378.9" cy="1190.1" r="9.05"/>
<circle cx="1384.9" cy="1206.5" r="9.05"/>
<circle cx="1395.3" cy="1200.5" r="9.05"/>
<circle cx="1446" cy="1197.5" r="9.05"/>
<circle cx="1410.2" cy="1211" r="9.05"/>
<circle cx="1423.7" cy="1222.9" r="9.05"/>
<circle cx="1394.6" cy="1253.4" r="9.05"/>
<circle cx="1466.9" cy="1200.5" r="9.05"/>
<circle cx="1237.3" cy="1149.1" r="9.05"/>
<circle cx="1318.5" cy="1172.2" r="9.05"/>
<circle cx="1300.6" cy="1181.1" r="9.05"/>
<circle cx="1302.1" cy="1204.2" r="9.05"/>
<circle cx="1319.3" cy="1199.8" r="9.05"/>
<circle cx="1345.4" cy="1159.5" r="9.05"/>
<circle cx="1366.3" cy="1185.6" r="9.05"/>
<circle cx="1380.4" cy="1169.2" r="9.05"/>
<circle cx="1398.3" cy="1171.4" r="9.05"/>
<circle cx="1408" cy="1187.8" r="9.05"/>
<circle cx="1455" cy="1177.4" r="9.05"/>
<circle cx="1424.4" cy="1206.5" r="9.05"/>
<circle cx="1446.8" cy="1213.2" r="9.05"/>
<circle cx="1399.8" cy="1222.9" r="9.05"/>
<circle cx="1351.3" cy="1231.8" r="9.05"/>
<circle cx="1425.9" cy="1236.3" r="9.05"/>
<circle cx="1445.3" cy="1231.8" r="9.05"/>
<circle cx="1408" cy="1246" r="9.05"/>
<circle cx="1406.5" cy="1265.4" r="9.05"/>
<circle cx="1424.4" cy="1266.9" r="9.05"/>
<circle cx="1553.1" cy="1136" r="9.05"/>
<circle cx="1494.2" cy="1163.3" r="9.05"/>
<circle cx="1490.4" cy="1195.3" r="9.05"/>
<circle cx="1679.1" cy="1014.2" r="9.05"/>
<circle cx="1693.2" cy="1108.1" r="9.05"/>
<circle cx="1541.1" cy="1117" r="9.05"/>
<circle cx="1552" cy="1148.7" r="9.05"/>
<circle cx="1554.6" cy="1167" r="9.05"/>
<circle cx="1486" cy="1035.5" r="9.05"/>
<circle cx="1483.9" cy="1083.8" r="9.05"/>
<circle cx="1484.8" cy="1084.7" r="9.05"/>
<circle cx="1494.9" cy="1113.3" r="9.05"/>
<circle cx="1491.2" cy="1127.5" r="9.05"/>
<circle cx="1491.9" cy="1145.4" r="9.05"/>
<circle cx="1483" cy="1167" r="9.05"/>
<circle cx="1497.1" cy="1181.6" r="9.05"/>
<circle cx="1484.5" cy="1207.3" r="9.05"/>
<circle cx="1475.9" cy="1235.9" r="9.05"/>
<circle cx="1650.1" cy="1205.6" r="9.05"/>
<circle cx="1504.7" cy="1232.5" r="9.05"/>
<circle cx="1480.4" cy="1246.4" r="9.05"/>
<circle cx="1486.1" cy="1272.7" r="9.05"/>
<circle cx="1498" cy="1296.6" r="9.05"/>
<circle cx="1475.9" cy="1202.4" r="9.05"/>
</g>
<line x1="1143.6" y1="1071.88" x2="1993" y2="1071.88" stroke="#000" stroke-width="3.6" stroke-dasharray="3.5 9.075"/>
<line x1="1143.6" y1="1136.98" x2="1993" y2="1136.98" stroke="#000" stroke-width="3.6" stroke-dasharray="12.8 12.35"/>
<line x1="1143.6" y1="1133.03" x2="1993" y2="1133.03" stroke="#000" stroke-width="3.6"/>
<line x1="1143.6" y1="1200.1" x2="1993" y2="1200.1" stroke="#000" stroke-width="3.6" stroke-dasharray="3.5 9.075"/>
<g fill="#efefef" stroke="#000" stroke-width="2.6">
</g>
<rect x="1143.6" y="801.5" width="849.4" height="662.5" fill="none" stroke="#000" stroke-width="3.75" stroke-linejoin="round"/>
<path d="M1143.6 1464V1472.6M1268.51 1464V1472.6M1393.42 1464V1472.6M1518.34 1464V1472.6M1643.25 1464V1472.6M1768.16 1464V1472.6M1893.07 1464V1472.6M1143.6 1428.92H1135.1M1143.6 1379.61H1135.1M1143.6 1330.29H1135.1M1143.6 1280.97H1135.1M1143.6 1231.66H1135.1M1143.6 1182.35H1135.1M1143.6 1133.03H1135.1M1143.6 1083.71H1135.1M1143.6 1034.4H1135.1M1143.6 985.09H1135.1M1143.6 935.77H1135.1M1143.6 886.45H1135.1M1143.6 837.14H1135.1" stroke="#000" stroke-width="3.75" fill="none"/>
<text transform="translate(1142.5 1501.5) rotate(0.03) scale(0.965 1)" font-size="33.3" stroke-width="0.6" text-anchor="middle">0</text>
<text transform="translate(1267.41 1501.5) rotate(0.03) scale(0.965 1)" font-size="33.3" stroke-width="0.6" text-anchor="middle">50</text>
<text transform="translate(1392.32 1501.5) rotate(0.03) scale(0.965 1)" font-size="33.3" stroke-width="0.6" text-anchor="middle">100</text>
<text transform="translate(1517.24 1501.5) rotate(0.03) scale(0.965 1)" font-size="33.3" stroke-width="0.6" text-anchor="middle">150</text>
<text transform="translate(1642.15 1501.5) rotate(0.03) scale(0.965 1)" font-size="33.3" stroke-width="0.6" text-anchor="middle">200</text>
<text transform="translate(1767.06 1501.5) rotate(0.03) scale(0.965 1)" font-size="33.3" stroke-width="0.6" text-anchor="middle">250</text>
<text transform="translate(1891.97 1501.5) rotate(0.03) scale(0.965 1)" font-size="33.3" stroke-width="0.6" text-anchor="middle">300</text>
<text transform="translate(1100.5 1441.72) rotate(0.03) scale(0.965 1)" font-size="33.3" stroke-width="0.6" text-anchor="middle">-150</text>
<text transform="translate(1100.5 1392.4) rotate(0.03) scale(0.965 1)" font-size="33.3" stroke-width="0.6" text-anchor="middle">-125</text>
<text transform="translate(1100.5 1343.09) rotate(0.03) scale(0.965 1)" font-size="33.3" stroke-width="0.6" text-anchor="middle">-100</text>
<text transform="translate(1100.5 1293.77) rotate(0.03) scale(0.965 1)" font-size="33.3" stroke-width="0.6" text-anchor="middle">-75</text>
<text transform="translate(1100.5 1244.46) rotate(0.03) scale(0.965 1)" font-size="33.3" stroke-width="0.6" text-anchor="middle">-50</text>
<text transform="translate(1100.5 1195.14) rotate(0.03) scale(0.965 1)" font-size="33.3" stroke-width="0.6" text-anchor="middle">-25</text>
<text transform="translate(1100.5 1145.83) rotate(0.03) scale(0.965 1)" font-size="33.3" stroke-width="0.6" text-anchor="middle">0</text>
<text transform="translate(1100.5 1096.51) rotate(0.03) scale(0.965 1)" font-size="33.3" stroke-width="0.6" text-anchor="middle">25</text>
<text transform="translate(1100.5 1047.2) rotate(0.03) scale(0.965 1)" font-size="33.3" stroke-width="0.6" text-anchor="middle">50</text>
<text transform="translate(1100.5 997.88) rotate(0.03) scale(0.965 1)" font-size="33.3" stroke-width="0.6" text-anchor="middle">75</text>
<text transform="translate(1100.5 948.57) rotate(0.03) scale(0.965 1)" font-size="33.3" stroke-width="0.6" text-anchor="middle">100</text>
<text transform="translate(1100.5 899.25) rotate(0.03) scale(0.965 1)" font-size="33.3" stroke-width="0.6" text-anchor="middle">125</text>
<text transform="translate(1100.5 849.94) rotate(0.03) scale(0.965 1)" font-size="33.3" stroke-width="0.6" text-anchor="middle">150</text>
<text transform="translate(1567.5 1542.8) rotate(0.03) scale(0.978 1)" font-size="39.0" stroke-width="0.6" text-anchor="middle">Average LV Mass (TEICH Echo &amp; CMR) (g/m²)</text>
<text transform="translate(1050.8 1466.5) rotate(-89.97) scale(1.11 1)" font-size="39.0" stroke-width="0.45">Δ</text>
<text transform="translate(1050.8 1427.4) rotate(-89.97) scale(0.98 1)" font-size="39.0" stroke-width="0.45">LV Mass (TEICH Echo - CMR) (g/m²)</text>
<text transform="translate(1178 1394) rotate(0.03) scale(0.983 1)" font-size="42.5" stroke-width="0.6">y = -0.06*x + 3</text>
<text transform="translate(1759 1066) rotate(0.03) scale(0.975 1)" font-size="33.3" stroke-width="0.6">+1.96*SD: 31</text>
<text transform="translate(1828.6 1130) rotate(0.03) scale(0.975 1)" font-size="33.3" stroke-width="0.6">Mean: -2</text>
<text transform="translate(1757.7 1230) rotate(0.03) scale(0.975 1)" font-size="33.3" stroke-width="0.6">-1.96*SD: -34</text>
</g>
<g stroke="#000" stroke-width="3" fill="none">
<rect x="1.5" y="2.3" width="2008" height="1565.6"/>
<path d="M1005.6 2.3V1567.9M1.5 785H2009.5" stroke-width="4"/>
</g>
<rect x="0" y="0" width="2012" height="0.9" fill="#888"/>
<rect x="0" y="1569.3" width="2012" height="0.7" fill="#888"/>
</svg></body></html>
